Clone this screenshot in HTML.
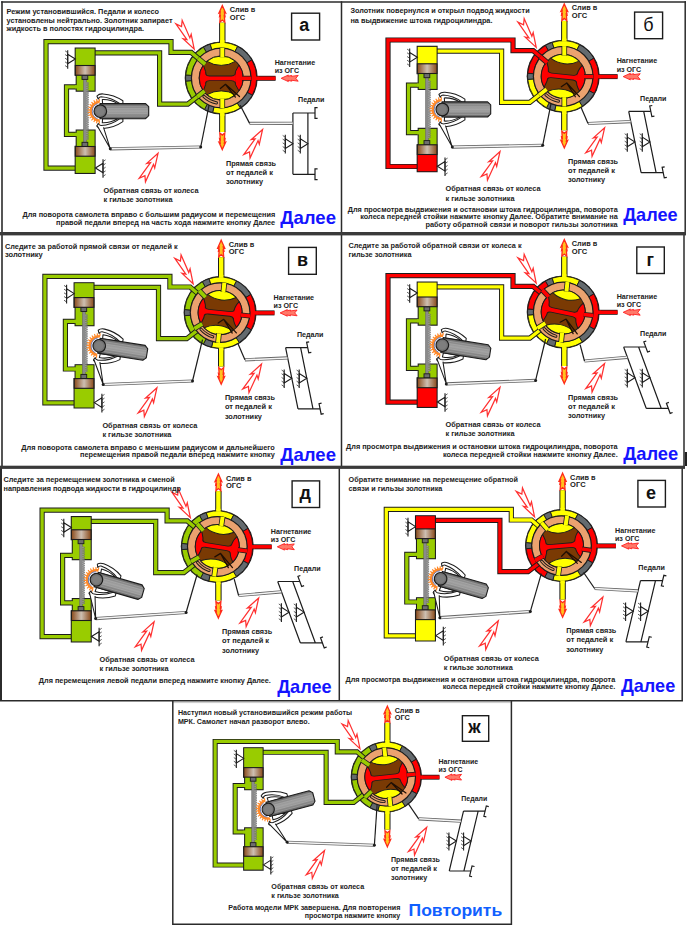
<!DOCTYPE html><html><head><meta charset="utf-8"><title>МРК</title><style>html,body{margin:0;padding:0;background:#fff}svg{display:block}text{font-family:"Liberation Sans",sans-serif}</style></head><body>
<svg width="687" height="931" viewBox="0 0 687 931">
<defs><linearGradient id="wg" x1="0" y1="0" x2="0" y2="1"><stop offset="0" stop-color="#636363"/><stop offset="0.25" stop-color="#8c8c8c"/><stop offset="0.5" stop-color="#a4a4a4"/><stop offset="0.78" stop-color="#858585"/><stop offset="1" stop-color="#5e5e5e"/></linearGradient><linearGradient id="pg" x1="0" y1="0" x2="1" y2="0"><stop offset="0" stop-color="#8a4a1a"/><stop offset="0.5" stop-color="#cdbfb2"/><stop offset="1" stop-color="#8a4a1a"/></linearGradient></defs>
<rect width="687" height="931" fill="#fff"/>
<!--PANELS-->
<g transform="translate(0,0)"><path d="M222.3,45.2 V22.6" fill="none" stroke="#1c1c1c" stroke-width="6.4" stroke-linejoin="miter" stroke-linecap="butt"/><path d="M222.3,45.2 V22.6" fill="none" stroke="#ffff00" stroke-width="4.4" stroke-linejoin="miter" stroke-linecap="butt"/><path d="M222.3,110.8 V132" fill="none" stroke="#1c1c1c" stroke-width="6.4" stroke-linejoin="miter" stroke-linecap="butt"/><path d="M222.3,110.8 V132" fill="none" stroke="#ffff00" stroke-width="4.4" stroke-linejoin="miter" stroke-linecap="butt"/><path d="M254,78.3 H275.6" fill="none" stroke="#1c1c1c" stroke-width="5.0" stroke-linejoin="miter" stroke-linecap="butt"/><path d="M254,78.3 H275.6" fill="none" stroke="#ff0000" stroke-width="3.5" stroke-linejoin="miter" stroke-linecap="butt"/><circle cx="221.2" cy="78.0" r="36.5" fill="#1c1c1c"/><path d="M203.4,47.17 A35.6,35.6 0 0 1 210.2,44.14 L212.05,49.85 A29.6,29.6 0 0 0 206.4,52.37 Z" fill="#646a6e" stroke="#1c1c1c" stroke-width="0.9" stroke-linejoin="round"/><path d="M210.2,44.14 A35.6,35.6 0 0 1 237.64,46.42 L234.87,51.74 A29.6,29.6 0 0 0 212.05,49.85 Z" fill="#ffff00" stroke="#1c1c1c" stroke-width="0.9" stroke-linejoin="round"/><path d="M237.64,46.42 A35.6,35.6 0 0 1 251.87,59.93 L246.7,62.98 A29.6,29.6 0 0 0 234.87,51.74 Z" fill="#646a6e" stroke="#1c1c1c" stroke-width="0.9" stroke-linejoin="round"/><path d="M251.87,59.93 A35.6,35.6 0 0 1 252.34,95.26 L247.09,92.35 A29.6,29.6 0 0 0 246.7,62.98 Z" fill="#ff0000" stroke="#1c1c1c" stroke-width="0.9" stroke-linejoin="round"/><path d="M252.34,95.26 A35.6,35.6 0 0 1 240.33,108.02 L237.1,102.96 A29.6,29.6 0 0 0 247.09,92.35 Z" fill="#646a6e" stroke="#1c1c1c" stroke-width="0.9" stroke-linejoin="round"/><path d="M240.33,108.02 A35.6,35.6 0 0 1 212.59,112.54 L214.04,106.72 A29.6,29.6 0 0 0 237.1,102.96 Z" fill="#ffff00" stroke="#1c1c1c" stroke-width="0.9" stroke-linejoin="round"/><path d="M212.59,112.54 A35.6,35.6 0 0 1 204.49,109.43 L207.3,104.14 A29.6,29.6 0 0 0 214.04,106.72 Z" fill="#646a6e" stroke="#1c1c1c" stroke-width="0.9" stroke-linejoin="round"/><path d="M204.49,109.43 A35.6,35.6 0 0 1 185.74,81.1 L191.71,80.58 A29.6,29.6 0 0 0 207.3,104.14 Z" fill="#99cc00" stroke="#1c1c1c" stroke-width="0.9" stroke-linejoin="round"/><path d="M185.74,81.1 A35.6,35.6 0 0 1 185.74,74.9 L191.71,75.42 A29.6,29.6 0 0 0 191.71,80.58 Z" fill="#646a6e" stroke="#1c1c1c" stroke-width="0.9" stroke-linejoin="round"/><path d="M185.74,74.9 A35.6,35.6 0 0 1 203.4,47.17 L206.4,52.37 A29.6,29.6 0 0 0 191.71,75.42 Z" fill="#99cc00" stroke="#1c1c1c" stroke-width="0.9" stroke-linejoin="round"/><rect x="220.05" y="40.3" width="4.5" height="3" fill="#ffff00"/><rect x="220.05" y="112.7" width="4.5" height="3" fill="#ffff00"/><rect x="255.9" y="76.55" width="3" height="3.5" fill="#ff0000"/><path d="M77,168.2 H46 V41.7 H171 V52.4 H191.23 L199,59.04" fill="none" stroke="#1c1c1c" stroke-width="5.2" stroke-linejoin="miter" stroke-linecap="butt"/><path d="M77,168.2 H46 V41.7 H171 V52.4 H191.23 L199,59.04" fill="none" stroke="#99cc00" stroke-width="3.3" stroke-linejoin="miter" stroke-linecap="butt"/><path d="M93,52.8 H159.6 V104.1 H187.79 L198.19,95.98" fill="none" stroke="#1c1c1c" stroke-width="5.2" stroke-linejoin="miter" stroke-linecap="butt"/><path d="M93,52.8 H159.6 V104.1 H187.79 L198.19,95.98" fill="none" stroke="#99cc00" stroke-width="3.3" stroke-linejoin="miter" stroke-linecap="butt"/><path d="M222.3,5.6 L225.6,12.96 L224.4,12.39 L225,16.26 L224.3,15.79 L224.8,22.2 L222.3,20.12 L219.8,22.2 L220.3,15.79 L219.6,16.26 L220.2,12.39 L219,12.96Z" fill="#ffc21e" stroke="#ff2a1a" stroke-width="1.3" stroke-linejoin="miter"/><path d="M222.3,149.6 L225.6,142.24 L224.4,142.81 L225,138.94 L224.3,139.41 L224.8,133 L222.3,135.07 L219.8,133 L220.3,139.41 L219.6,138.94 L220.2,142.81 L219,142.24Z" fill="#ffc21e" stroke="#ff2a1a" stroke-width="1.3" stroke-linejoin="miter"/><path d="M281.2,78.3 L288.4,75 L287.8,76.3 L291.7,75.4 L291.2,76.4 L298.2,75.4 L295.8,78.3 L298.2,81.2 L291.2,80.2 L291.7,81.2 L287.8,80.3 L288.4,81.6Z" fill="#ff7a6a" stroke="#ff2020" stroke-width="0.9" stroke-linejoin="miter"/><path d="M78,86.8 H66.5 V134.4 H78" fill="none" stroke="#1c1c1c" stroke-width="5.2" stroke-linejoin="miter" stroke-linecap="butt"/><path d="M78,86.8 H66.5 V134.4 H78" fill="none" stroke="#99cc00" stroke-width="3.3" stroke-linejoin="miter" stroke-linecap="butt"/><path d="M75.3,48.2 H95.0 V91 H76.3 V75.2 H75.3 Z" fill="#1c1c1c" stroke="#1c1c1c" stroke-width="1.3" stroke-linejoin="miter"/><rect x="75.7" y="48.6" width="18.9" height="16.9" fill="#99cc00"/><rect x="76.7" y="75.2" width="17.9" height="15.4" fill="#99cc00"/><rect x="75" y="85.1" width="3" height="3.4" fill="#99cc00"/><path d="M76.3,130.2 H95.0 V173.3 H75.3 V146.5 H76.3 Z" fill="#1c1c1c" stroke="#1c1c1c" stroke-width="1.3"/><rect x="76.7" y="130.6" width="17.9" height="15.9" fill="#99cc00"/><rect x="75.7" y="156.2" width="18.9" height="16.7" fill="#99cc00"/><rect x="75" y="132.7" width="3" height="3.4" fill="#99cc00"/><rect x="83.4" y="75.2" width="3.0" height="71.3" fill="#8a8a8a" stroke="#555" stroke-width="0.4"/><path d="M86.4,82.2 l2.4,0.9 l-2.4,0.9 M86.4,84 l2.4,0.9 l-2.4,0.9 M86.4,85.8 l2.4,0.9 l-2.4,0.9 M86.4,87.6 l2.4,0.9 l-2.4,0.9 M86.4,89.4 l2.4,0.9 l-2.4,0.9 M86.4,91.2 l2.4,0.9 l-2.4,0.9 M86.4,93 l2.4,0.9 l-2.4,0.9 M86.4,94.8 l2.4,0.9 l-2.4,0.9 M86.4,96.6 l2.4,0.9 l-2.4,0.9 M86.4,98.4 l2.4,0.9 l-2.4,0.9 M86.4,100.2 l2.4,0.9 l-2.4,0.9 M86.4,102 l2.4,0.9 l-2.4,0.9 M86.4,103.8 l2.4,0.9 l-2.4,0.9 M86.4,105.6 l2.4,0.9 l-2.4,0.9 M86.4,107.4 l2.4,0.9 l-2.4,0.9 M86.4,109.2 l2.4,0.9 l-2.4,0.9 M86.4,111 l2.4,0.9 l-2.4,0.9 M86.4,112.8 l2.4,0.9 l-2.4,0.9 M86.4,114.6 l2.4,0.9 l-2.4,0.9 M86.4,116.4 l2.4,0.9 l-2.4,0.9 M86.4,118.2 l2.4,0.9 l-2.4,0.9 M86.4,120 l2.4,0.9 l-2.4,0.9 M86.4,121.8 l2.4,0.9 l-2.4,0.9 M86.4,123.6 l2.4,0.9 l-2.4,0.9 M86.4,125.4 l2.4,0.9 l-2.4,0.9 M86.4,127.2 l2.4,0.9 l-2.4,0.9 M86.4,129 l2.4,0.9 l-2.4,0.9 M86.4,130.8 l2.4,0.9 l-2.4,0.9 M86.4,132.6 l2.4,0.9 l-2.4,0.9 M86.4,134.4 l2.4,0.9 l-2.4,0.9 M86.4,136.2 l2.4,0.9 l-2.4,0.9 M86.4,138 l2.4,0.9 l-2.4,0.9 " fill="#b5b5b5" stroke="#6a6a6a" stroke-width="0.6"/><rect x="82.0" y="75.2" width="5.8" height="4.2" fill="#6e6e6e" stroke="#1c1c1c" stroke-width="0.9"/><rect x="82.0" y="142.3" width="5.8" height="4.2" fill="#6e6e6e" stroke="#1c1c1c" stroke-width="0.9"/><rect x="75.3" y="65.5" width="19.7" height="9.7" fill="url(#pg)" stroke="#1c1c1c" stroke-width="1.1"/><rect x="75.3" y="146.5" width="19.7" height="9.7" fill="url(#pg)" stroke="#1c1c1c" stroke-width="1.1"/><path d="M75.3,59 L67.7,54.2 L67.7,63.8 Z" fill="#fff" stroke="#1c1c1c" stroke-width="1.1"/><path d="M67.7,50.2 V68.8" stroke="#1c1c1c" stroke-width="1.1"/><path d="M67.7,52.6 l-2.6,-1.8" stroke="#333" stroke-width="0.8"/><path d="M67.7,56.3 l-2.6,-1.8" stroke="#333" stroke-width="0.8"/><path d="M67.7,60 l-2.6,-1.8" stroke="#333" stroke-width="0.8"/><path d="M67.7,63.7 l-2.6,-1.8" stroke="#333" stroke-width="0.8"/><path d="M67.7,67.4 l-2.6,-1.8" stroke="#333" stroke-width="0.8"/><path d="M95.4,168 L103,163.2 L103,172.8 Z" fill="#fff" stroke="#1c1c1c" stroke-width="1.1"/><path d="M103,159.2 V177.8" stroke="#1c1c1c" stroke-width="1.1"/><path d="M103,161.6 l2.6,-1.8" stroke="#333" stroke-width="0.8"/><path d="M103,165.3 l2.6,-1.8" stroke="#333" stroke-width="0.8"/><path d="M103,169 l2.6,-1.8" stroke="#333" stroke-width="0.8"/><path d="M103,172.7 l2.6,-1.8" stroke="#333" stroke-width="0.8"/><path d="M103,176.4 l2.6,-1.8" stroke="#333" stroke-width="0.8"/><path d="M110.3,148.8 L200.7,147" stroke="#666" stroke-width="3.2"/><path d="M110.8,148.8 L200.4,147" stroke="#f4f4f4" stroke-width="1.5"/><circle cx="110.3" cy="148.8" r="1.5" fill="#1c1c1c"/><circle cx="200.7" cy="147" r="1.5" fill="#1c1c1c"/><path d="M200.7,147 L209.4,103.4" stroke="#1c1c1c" stroke-width="1.2"/><g transform="rotate(0 100.3 111.2)"><path d="M100.04,121.9 L99.7,123.89 L98.69,123.8 L98.7,121.78 L97.63,121.56 L96.85,123.42 L95.88,123.11 L96.35,121.14 L95.35,120.69 L94.17,122.32 L93.3,121.8 L94.2,119.99 L93.33,119.32 L91.81,120.65 L91.08,119.94 L92.37,118.38 L91.68,117.53 L89.9,118.48 L89.35,117.63 L90.95,116.4 L90.47,115.42 L88.52,115.94 L88.18,114.98 L90.02,114.15 L89.77,113.08 L87.75,113.15 L87.63,112.14 L89.61,111.75 L89.61,110.65 L87.63,110.26 L87.75,109.25 L89.77,109.32 L90.02,108.25 L88.18,107.42 L88.52,106.46 L90.47,106.98 L90.95,106 L89.35,104.77 L89.9,103.92 L91.68,104.87 L92.37,104.02 L91.08,102.46 L91.81,101.75 L93.33,103.08 L94.2,102.41 L93.3,100.6 L94.17,100.08 L95.35,101.71 L96.35,101.26 L95.88,99.29 L96.85,98.98 L97.63,100.84 L98.7,100.62 L98.69,98.6 L99.7,98.51 L100.04,100.5 L99.59,103.03 L97.76,103.4 L96.06,104.18 L94.58,105.32 L93.4,106.77 L92.58,108.45 L92.15,110.27 L92.15,112.13 L92.58,113.95 L93.4,115.63 L94.58,117.08 L96.06,118.22 L97.76,119 L99.59,119.37Z" fill="#ff8a2a"/><path d="M97.56,118.72 A8,8 0 0 1 97.56,103.68" fill="none" stroke="#3b5bb5" stroke-width="0.7"/><path d="M96.9,126.4 Q99,128.8 103,128.5 Q114,127.8 122.9,121.6 L122.9,118.6 L120,118.6 Q111,125.1 101,125.6 Q99,125.4 98.2,123.4 Z" fill="#fff" stroke="#1c1c1c" stroke-width="1.05" stroke-linejoin="round"/><path d="M102.3,122.8 Q110,123.2 117.8,118.8 L102.6,118.5 Z" fill="#fff" stroke="#1c1c1c" stroke-width="1.05" stroke-linejoin="round"/><path d="M96.9,96 Q99,93.6 103,93.9 Q114,94.6 122.9,100.8 L122.9,103.8 L120,103.8 Q111,97.3 101,96.8 Q99,97 98.2,99 Z" fill="#fff" stroke="#1c1c1c" stroke-width="1.05" stroke-linejoin="round"/><path d="M102.3,99.6 Q110,99.2 117.8,103.6 L102.6,103.9 Z" fill="#fff" stroke="#1c1c1c" stroke-width="1.05" stroke-linejoin="round"/><path d="M96.8,124.9 L110.3,148.8 L103.5,127.3" fill="#fff" stroke="#1c1c1c" stroke-width="1.05" stroke-linejoin="round"/><path d="M100,103.6 H145.6 L148.7,106.6 V115.6 L145.6,118.7 H100 Z" fill="url(#wg)" stroke="#1c1c1c" stroke-width="1.1" stroke-linejoin="round"/><path d="M106,106.3 H147.5" stroke="#b9b9b9" stroke-width="0.4"/><path d="M106,108.6 H147.5" stroke="#b9b9b9" stroke-width="0.4"/><path d="M106,113.6 H147.5" stroke="#b9b9b9" stroke-width="0.4"/><path d="M106,116.2 H147.5" stroke="#b9b9b9" stroke-width="0.4"/><circle cx="100.3" cy="111.2" r="6.3" fill="#747474" stroke="#1c1c1c" stroke-width="1.2"/><circle cx="100.3" cy="111.2" r="4.2" fill="#7e7e7e"/></g><path d="M292.9,113.0 L292.9,174.3 M307.9,113.0 L307.9,174.3 M292.9,113.0 H315 M292.9,174.3 H315" stroke="#1c1c1c" stroke-width="1.2" fill="none"/><path d="M2.6,-5.4 H0 V5.4 H2.6" transform="translate(315,113) rotate(-0)" stroke="#1c1c1c" stroke-width="1.2" fill="none"/><path d="M2.6,-5.4 H0 V5.4 H2.6" transform="translate(315,174.3) rotate(-0)" stroke="#1c1c1c" stroke-width="1.2" fill="none"/><path d="M292.9,143.65 L285.3,138.85 L285.3,148.45 Z" fill="#fff" stroke="#1c1c1c" stroke-width="1.1"/><path d="M285.3,134.85 V153.45" stroke="#1c1c1c" stroke-width="1.1"/><path d="M285.3,137.25 l-2.6,-1.8" stroke="#333" stroke-width="0.8"/><path d="M285.3,140.95 l-2.6,-1.8" stroke="#333" stroke-width="0.8"/><path d="M285.3,144.65 l-2.6,-1.8" stroke="#333" stroke-width="0.8"/><path d="M285.3,148.35 l-2.6,-1.8" stroke="#333" stroke-width="0.8"/><path d="M285.3,152.05 l-2.6,-1.8" stroke="#333" stroke-width="0.8"/><path d="M307.9,143.65 L300.3,138.85 L300.3,148.45 Z" fill="#fff" stroke="#1c1c1c" stroke-width="1.1"/><path d="M300.3,134.85 V153.45" stroke="#1c1c1c" stroke-width="1.1"/><path d="M300.3,137.25 l-2.6,-1.8" stroke="#333" stroke-width="0.8"/><path d="M300.3,140.95 l-2.6,-1.8" stroke="#333" stroke-width="0.8"/><path d="M300.3,144.65 l-2.6,-1.8" stroke="#333" stroke-width="0.8"/><path d="M300.3,148.35 l-2.6,-1.8" stroke="#333" stroke-width="0.8"/><path d="M300.3,152.05 l-2.6,-1.8" stroke="#333" stroke-width="0.8"/><path d="M249.6,123.4 L292.9,123.3" stroke="#666" stroke-width="3.2"/><path d="M250.1,123.4 L292.6,123.3" stroke="#f4f4f4" stroke-width="1.5"/><path d="M249.6,123.4 L240.2,105.3" stroke="#1c1c1c" stroke-width="1.2"/><circle cx="221.2" cy="78.0" r="30.400000000000002" fill="#1c1c1c"/><circle cx="221.2" cy="78.0" r="29.2" fill="#eba26f"/><circle cx="221.2" cy="78.0" r="22.5" fill="#1c1c1c"/><g transform="rotate(0 221.2 78.0)"><circle cx="221.2" cy="78.0" r="21.6" fill="#7a3a04"/><path d="M206.91,61.27 A22,22 0 0 1 235.49,61.27 A26.79,26.79 0 0 1 206.91,61.27 Z" fill="#ffff00" stroke="#1c1c1c" stroke-width="1.0" stroke-linejoin="round"/><path d="M235.49,94.73 A22,22 0 0 1 206.91,94.73 A28.57,28.57 0 0 1 235.49,94.73 Z" fill="#ffff00" stroke="#1c1c1c" stroke-width="1.0" stroke-linejoin="round"/><path d="M203.4,90.93 A22,22 0 0 1 203.4,65.07 A31.28,31.28 0 0 1 203.4,90.93 Z" fill="#ff0000" stroke="#1c1c1c" stroke-width="1.0" stroke-linejoin="round"/><path d="M239,65.07 A22,22 0 0 1 239,90.93 A20.84,20.84 0 0 1 239,65.07 Z" fill="#ff0000" stroke="#1c1c1c" stroke-width="1.0" stroke-linejoin="round"/><path d="M206.2,73.65 Q206.5,75.55 209.4,75.55 H231.3 Q234.2,75.55 234.5,73.65 V82.95 Q234.2,81.05 231.3,81.05 H209.4 Q206.5,81.05 206.2,82.95 Z" fill="#1c1c1c"/><path d="M205,74.5 Q206.5,76.4 209.4,76.4 H231.3 Q234.2,76.4 235.7,74.5 V82.1 Q234.2,80.2 231.3,80.2 H209.4 Q206.5,80.2 205,82.1 Z" fill="#ff0000"/><path d="M225.5,84.3 L239.5,96.5 M225.5,84.3 L220.4,88.6 M225.9,84.9 L235.4,97.1" stroke="#1e0e04" stroke-width="1.25" fill="none" stroke-linecap="round"/></g><g transform="rotate(0 221.2 78.0)"><rect x="219.5" y="47.8" width="5.6" height="9.4" fill="#1c1c1c"/><rect x="220.3" y="47.8" width="4" height="9.4" fill="#ffff00"/><rect x="219.5" y="98.8" width="5.6" height="9.4" fill="#1c1c1c"/><rect x="220.3" y="98.8" width="4" height="9.4" fill="#ffff00"/><rect x="242" y="75.75" width="9.4" height="5.1" fill="#1c1c1c"/><rect x="242" y="76.55" width="9.4" height="3.5" fill="#ff0000"/></g><path d="M205.16,64.3 L198.16,58.32" stroke="#1c1c1c" stroke-width="5.4"/><path d="M205.16,64.3 L198.16,58.32" stroke="#99cc00" stroke-width="3.8"/><path d="M204.57,90.99 L197.32,96.65" stroke="#1c1c1c" stroke-width="5.4"/><path d="M204.57,90.99 L197.32,96.65" stroke="#99cc00" stroke-width="3.8"/><g transform="rotate(0 221.2 78.0)"><path d="M203.95,96.5 A25.3,25.3 0 0 0 216.37,102.84" fill="none" stroke="#1c1c1c" stroke-width="3.2" stroke-linecap="round"/><path d="M203.95,96.5 A25.3,25.3 0 0 0 216.37,102.84" fill="none" stroke="#e09a68" stroke-width="1.3" stroke-linecap="round"/></g><path d="M-1.6,0 L-16,4.6 L-13.5,1.7 L-32.6,3.6 L-27.5,0 L-32.6,-3.6 L-13.5,-1.7 L-16,-4.6Z" transform="translate(195,50.5) rotate(60.7)" fill="#fff" stroke="#ff3030" stroke-width="1.25" stroke-linejoin="miter"/><path d="M-1.6,0 L-16,4.6 L-13.5,1.7 L-32.6,3.6 L-27.5,0 L-32.6,-3.6 L-13.5,-1.7 L-16,-4.6Z" transform="translate(158.8,151.9) rotate(-59.7)" fill="#fff" stroke="#ff3030" stroke-width="1.25" stroke-linejoin="miter"/><path d="M-1.6,0 L-16,4.6 L-13.5,1.7 L-32.6,3.6 L-27.5,0 L-32.6,-3.6 L-13.5,-1.7 L-16,-4.6Z" transform="translate(263.4,128.1) rotate(-59.7)" fill="#fff" stroke="#ff3030" stroke-width="1.25" stroke-linejoin="miter"/><text x="229.8" y="12.2" font-size="7.33" font-weight="bold" fill="#222" text-anchor="start" textLength="25.5" lengthAdjust="spacingAndGlyphs">Слив в</text><text x="229.8" y="19.8" font-size="7.33" font-weight="bold" fill="#222" text-anchor="start" textLength="15.5" lengthAdjust="spacingAndGlyphs">ОГС</text><text x="274.7" y="65.1" font-size="7.33" font-weight="bold" fill="#222" text-anchor="start" textLength="40.5" lengthAdjust="spacingAndGlyphs">Нагнетание</text><text x="274.7" y="73.4" font-size="7.33" font-weight="bold" fill="#222" text-anchor="start" textLength="24.5" lengthAdjust="spacingAndGlyphs">из ОГС</text><text x="298" y="102.4" font-size="7.33" font-weight="bold" fill="#222" text-anchor="start" textLength="26.5" lengthAdjust="spacingAndGlyphs">Педали</text><text x="226" y="165.6" font-size="7.33" font-weight="bold" fill="#222" text-anchor="start" textLength="50" lengthAdjust="spacingAndGlyphs">Прямая связь</text><text x="226" y="174.8" font-size="7.33" font-weight="bold" fill="#222" text-anchor="start" textLength="47" lengthAdjust="spacingAndGlyphs">от педалей к</text><text x="226" y="184" font-size="7.33" font-weight="bold" fill="#222" text-anchor="start" textLength="37" lengthAdjust="spacingAndGlyphs">золотнику</text><text x="103.5" y="193" font-size="7.33" font-weight="bold" fill="#222" text-anchor="start" textLength="95" lengthAdjust="spacingAndGlyphs">Обратная связь от колеса</text><text x="103.5" y="202.3" font-size="7.33" font-weight="bold" fill="#222" text-anchor="start" textLength="69" lengthAdjust="spacingAndGlyphs">к гильзе золотника</text></g>
<g transform="translate(342,-1.7)"><path d="M222.3,45.2 V22.6" fill="none" stroke="#1c1c1c" stroke-width="6.4" stroke-linejoin="miter" stroke-linecap="butt"/><path d="M222.3,45.2 V22.6" fill="none" stroke="#ffff00" stroke-width="4.4" stroke-linejoin="miter" stroke-linecap="butt"/><path d="M222.3,110.8 V132" fill="none" stroke="#1c1c1c" stroke-width="6.4" stroke-linejoin="miter" stroke-linecap="butt"/><path d="M222.3,110.8 V132" fill="none" stroke="#ffff00" stroke-width="4.4" stroke-linejoin="miter" stroke-linecap="butt"/><path d="M254,78.3 H275.6" fill="none" stroke="#1c1c1c" stroke-width="5.0" stroke-linejoin="miter" stroke-linecap="butt"/><path d="M254,78.3 H275.6" fill="none" stroke="#ff0000" stroke-width="3.5" stroke-linejoin="miter" stroke-linecap="butt"/><circle cx="221.2" cy="78.0" r="36.5" fill="#1c1c1c"/><path d="M203.4,47.17 A35.6,35.6 0 0 1 210.2,44.14 L212.05,49.85 A29.6,29.6 0 0 0 206.4,52.37 Z" fill="#646a6e" stroke="#1c1c1c" stroke-width="0.9" stroke-linejoin="round"/><path d="M210.2,44.14 A35.6,35.6 0 0 1 237.64,46.42 L234.87,51.74 A29.6,29.6 0 0 0 212.05,49.85 Z" fill="#ffff00" stroke="#1c1c1c" stroke-width="0.9" stroke-linejoin="round"/><path d="M237.64,46.42 A35.6,35.6 0 0 1 251.87,59.93 L246.7,62.98 A29.6,29.6 0 0 0 234.87,51.74 Z" fill="#646a6e" stroke="#1c1c1c" stroke-width="0.9" stroke-linejoin="round"/><path d="M251.87,59.93 A35.6,35.6 0 0 1 252.34,95.26 L247.09,92.35 A29.6,29.6 0 0 0 246.7,62.98 Z" fill="#ff0000" stroke="#1c1c1c" stroke-width="0.9" stroke-linejoin="round"/><path d="M252.34,95.26 A35.6,35.6 0 0 1 240.33,108.02 L237.1,102.96 A29.6,29.6 0 0 0 247.09,92.35 Z" fill="#646a6e" stroke="#1c1c1c" stroke-width="0.9" stroke-linejoin="round"/><path d="M240.33,108.02 A35.6,35.6 0 0 1 212.59,112.54 L214.04,106.72 A29.6,29.6 0 0 0 237.1,102.96 Z" fill="#ffff00" stroke="#1c1c1c" stroke-width="0.9" stroke-linejoin="round"/><path d="M212.59,112.54 A35.6,35.6 0 0 1 204.49,109.43 L207.3,104.14 A29.6,29.6 0 0 0 214.04,106.72 Z" fill="#646a6e" stroke="#1c1c1c" stroke-width="0.9" stroke-linejoin="round"/><path d="M204.49,109.43 A35.6,35.6 0 0 1 185.74,81.1 L191.71,80.58 A29.6,29.6 0 0 0 207.3,104.14 Z" fill="#ffff00" stroke="#1c1c1c" stroke-width="0.9" stroke-linejoin="round"/><path d="M185.74,81.1 A35.6,35.6 0 0 1 185.74,74.9 L191.71,75.42 A29.6,29.6 0 0 0 191.71,80.58 Z" fill="#646a6e" stroke="#1c1c1c" stroke-width="0.9" stroke-linejoin="round"/><path d="M185.74,74.9 A35.6,35.6 0 0 1 203.4,47.17 L206.4,52.37 A29.6,29.6 0 0 0 191.71,75.42 Z" fill="#ff0000" stroke="#1c1c1c" stroke-width="0.9" stroke-linejoin="round"/><rect x="220.05" y="40.3" width="4.5" height="3" fill="#ffff00"/><rect x="220.05" y="112.7" width="4.5" height="3" fill="#ffff00"/><rect x="255.9" y="76.55" width="3" height="3.5" fill="#ff0000"/><path d="M77,168.2 H46 V41.7 H171 V52.4 H191.23 L199,59.04" fill="none" stroke="#1c1c1c" stroke-width="5.2" stroke-linejoin="miter" stroke-linecap="butt"/><path d="M77,168.2 H46 V41.7 H171 V52.4 H191.23 L199,59.04" fill="none" stroke="#ff0000" stroke-width="3.3" stroke-linejoin="miter" stroke-linecap="butt"/><path d="M93,52.8 H159.6 V104.1 H187.79 L198.19,95.98" fill="none" stroke="#1c1c1c" stroke-width="5.2" stroke-linejoin="miter" stroke-linecap="butt"/><path d="M93,52.8 H159.6 V104.1 H187.79 L198.19,95.98" fill="none" stroke="#ffff00" stroke-width="3.3" stroke-linejoin="miter" stroke-linecap="butt"/><path d="M222.3,5.6 L225.6,12.96 L224.4,12.39 L225,16.26 L224.3,15.79 L224.8,22.2 L222.3,20.12 L219.8,22.2 L220.3,15.79 L219.6,16.26 L220.2,12.39 L219,12.96Z" fill="#ffc21e" stroke="#ff2a1a" stroke-width="1.3" stroke-linejoin="miter"/><path d="M222.3,149.6 L225.6,142.24 L224.4,142.81 L225,138.94 L224.3,139.41 L224.8,133 L222.3,135.07 L219.8,133 L220.3,139.41 L219.6,138.94 L220.2,142.81 L219,142.24Z" fill="#ffc21e" stroke="#ff2a1a" stroke-width="1.3" stroke-linejoin="miter"/><path d="M281.2,78.3 L288.4,75 L287.8,76.3 L291.7,75.4 L291.2,76.4 L298.2,75.4 L295.8,78.3 L298.2,81.2 L291.2,80.2 L291.7,81.2 L287.8,80.3 L288.4,81.6Z" fill="#ff7a6a" stroke="#ff2020" stroke-width="0.9" stroke-linejoin="miter"/><path d="M78,86.8 H66.5 V134.4 H78" fill="none" stroke="#1c1c1c" stroke-width="5.2" stroke-linejoin="miter" stroke-linecap="butt"/><path d="M78,86.8 H66.5 V134.4 H78" fill="none" stroke="#99cc00" stroke-width="3.3" stroke-linejoin="miter" stroke-linecap="butt"/><path d="M75.3,48.2 H95.0 V91 H76.3 V75.2 H75.3 Z" fill="#1c1c1c" stroke="#1c1c1c" stroke-width="1.3" stroke-linejoin="miter"/><rect x="75.7" y="48.6" width="18.9" height="16.9" fill="#ffff00"/><rect x="76.7" y="75.2" width="17.9" height="15.4" fill="#99cc00"/><rect x="75" y="85.1" width="3" height="3.4" fill="#99cc00"/><path d="M76.3,130.2 H95.0 V173.3 H75.3 V146.5 H76.3 Z" fill="#1c1c1c" stroke="#1c1c1c" stroke-width="1.3"/><rect x="76.7" y="130.6" width="17.9" height="15.9" fill="#99cc00"/><rect x="75.7" y="156.2" width="18.9" height="16.7" fill="#ff0000"/><rect x="75" y="132.7" width="3" height="3.4" fill="#99cc00"/><rect x="83.4" y="75.2" width="3.0" height="71.3" fill="#8a8a8a" stroke="#555" stroke-width="0.4"/><path d="M86.4,82.2 l2.4,0.9 l-2.4,0.9 M86.4,84 l2.4,0.9 l-2.4,0.9 M86.4,85.8 l2.4,0.9 l-2.4,0.9 M86.4,87.6 l2.4,0.9 l-2.4,0.9 M86.4,89.4 l2.4,0.9 l-2.4,0.9 M86.4,91.2 l2.4,0.9 l-2.4,0.9 M86.4,93 l2.4,0.9 l-2.4,0.9 M86.4,94.8 l2.4,0.9 l-2.4,0.9 M86.4,96.6 l2.4,0.9 l-2.4,0.9 M86.4,98.4 l2.4,0.9 l-2.4,0.9 M86.4,100.2 l2.4,0.9 l-2.4,0.9 M86.4,102 l2.4,0.9 l-2.4,0.9 M86.4,103.8 l2.4,0.9 l-2.4,0.9 M86.4,105.6 l2.4,0.9 l-2.4,0.9 M86.4,107.4 l2.4,0.9 l-2.4,0.9 M86.4,109.2 l2.4,0.9 l-2.4,0.9 M86.4,111 l2.4,0.9 l-2.4,0.9 M86.4,112.8 l2.4,0.9 l-2.4,0.9 M86.4,114.6 l2.4,0.9 l-2.4,0.9 M86.4,116.4 l2.4,0.9 l-2.4,0.9 M86.4,118.2 l2.4,0.9 l-2.4,0.9 M86.4,120 l2.4,0.9 l-2.4,0.9 M86.4,121.8 l2.4,0.9 l-2.4,0.9 M86.4,123.6 l2.4,0.9 l-2.4,0.9 M86.4,125.4 l2.4,0.9 l-2.4,0.9 M86.4,127.2 l2.4,0.9 l-2.4,0.9 M86.4,129 l2.4,0.9 l-2.4,0.9 M86.4,130.8 l2.4,0.9 l-2.4,0.9 M86.4,132.6 l2.4,0.9 l-2.4,0.9 M86.4,134.4 l2.4,0.9 l-2.4,0.9 M86.4,136.2 l2.4,0.9 l-2.4,0.9 M86.4,138 l2.4,0.9 l-2.4,0.9 " fill="#b5b5b5" stroke="#6a6a6a" stroke-width="0.6"/><rect x="82.0" y="75.2" width="5.8" height="4.2" fill="#6e6e6e" stroke="#1c1c1c" stroke-width="0.9"/><rect x="82.0" y="142.3" width="5.8" height="4.2" fill="#6e6e6e" stroke="#1c1c1c" stroke-width="0.9"/><rect x="75.3" y="65.5" width="19.7" height="9.7" fill="url(#pg)" stroke="#1c1c1c" stroke-width="1.1"/><rect x="75.3" y="146.5" width="19.7" height="9.7" fill="url(#pg)" stroke="#1c1c1c" stroke-width="1.1"/><path d="M75.3,59 L67.7,54.2 L67.7,63.8 Z" fill="#fff" stroke="#1c1c1c" stroke-width="1.1"/><path d="M67.7,50.2 V68.8" stroke="#1c1c1c" stroke-width="1.1"/><path d="M67.7,52.6 l-2.6,-1.8" stroke="#333" stroke-width="0.8"/><path d="M67.7,56.3 l-2.6,-1.8" stroke="#333" stroke-width="0.8"/><path d="M67.7,60 l-2.6,-1.8" stroke="#333" stroke-width="0.8"/><path d="M67.7,63.7 l-2.6,-1.8" stroke="#333" stroke-width="0.8"/><path d="M67.7,67.4 l-2.6,-1.8" stroke="#333" stroke-width="0.8"/><path d="M95.4,168 L103,163.2 L103,172.8 Z" fill="#fff" stroke="#1c1c1c" stroke-width="1.1"/><path d="M103,159.2 V177.8" stroke="#1c1c1c" stroke-width="1.1"/><path d="M103,161.6 l2.6,-1.8" stroke="#333" stroke-width="0.8"/><path d="M103,165.3 l2.6,-1.8" stroke="#333" stroke-width="0.8"/><path d="M103,169 l2.6,-1.8" stroke="#333" stroke-width="0.8"/><path d="M103,172.7 l2.6,-1.8" stroke="#333" stroke-width="0.8"/><path d="M103,176.4 l2.6,-1.8" stroke="#333" stroke-width="0.8"/><path d="M110.3,148.8 L200.7,147" stroke="#666" stroke-width="3.2"/><path d="M110.8,148.8 L200.4,147" stroke="#f4f4f4" stroke-width="1.5"/><circle cx="110.3" cy="148.8" r="1.5" fill="#1c1c1c"/><circle cx="200.7" cy="147" r="1.5" fill="#1c1c1c"/><path d="M200.7,147 L209.4,103.4" stroke="#1c1c1c" stroke-width="1.2"/><g transform="rotate(0 100.3 111.2)"><path d="M100.04,121.9 L99.7,123.89 L98.69,123.8 L98.7,121.78 L97.63,121.56 L96.85,123.42 L95.88,123.11 L96.35,121.14 L95.35,120.69 L94.17,122.32 L93.3,121.8 L94.2,119.99 L93.33,119.32 L91.81,120.65 L91.08,119.94 L92.37,118.38 L91.68,117.53 L89.9,118.48 L89.35,117.63 L90.95,116.4 L90.47,115.42 L88.52,115.94 L88.18,114.98 L90.02,114.15 L89.77,113.08 L87.75,113.15 L87.63,112.14 L89.61,111.75 L89.61,110.65 L87.63,110.26 L87.75,109.25 L89.77,109.32 L90.02,108.25 L88.18,107.42 L88.52,106.46 L90.47,106.98 L90.95,106 L89.35,104.77 L89.9,103.92 L91.68,104.87 L92.37,104.02 L91.08,102.46 L91.81,101.75 L93.33,103.08 L94.2,102.41 L93.3,100.6 L94.17,100.08 L95.35,101.71 L96.35,101.26 L95.88,99.29 L96.85,98.98 L97.63,100.84 L98.7,100.62 L98.69,98.6 L99.7,98.51 L100.04,100.5 L99.59,103.03 L97.76,103.4 L96.06,104.18 L94.58,105.32 L93.4,106.77 L92.58,108.45 L92.15,110.27 L92.15,112.13 L92.58,113.95 L93.4,115.63 L94.58,117.08 L96.06,118.22 L97.76,119 L99.59,119.37Z" fill="#ff8a2a"/><path d="M97.56,118.72 A8,8 0 0 1 97.56,103.68" fill="none" stroke="#3b5bb5" stroke-width="0.7"/><path d="M96.9,126.4 Q99,128.8 103,128.5 Q114,127.8 122.9,121.6 L122.9,118.6 L120,118.6 Q111,125.1 101,125.6 Q99,125.4 98.2,123.4 Z" fill="#fff" stroke="#1c1c1c" stroke-width="1.05" stroke-linejoin="round"/><path d="M102.3,122.8 Q110,123.2 117.8,118.8 L102.6,118.5 Z" fill="#fff" stroke="#1c1c1c" stroke-width="1.05" stroke-linejoin="round"/><path d="M96.9,96 Q99,93.6 103,93.9 Q114,94.6 122.9,100.8 L122.9,103.8 L120,103.8 Q111,97.3 101,96.8 Q99,97 98.2,99 Z" fill="#fff" stroke="#1c1c1c" stroke-width="1.05" stroke-linejoin="round"/><path d="M102.3,99.6 Q110,99.2 117.8,103.6 L102.6,103.9 Z" fill="#fff" stroke="#1c1c1c" stroke-width="1.05" stroke-linejoin="round"/><path d="M96.8,124.9 L110.3,148.8 L103.5,127.3" fill="#fff" stroke="#1c1c1c" stroke-width="1.05" stroke-linejoin="round"/><path d="M100,103.6 H145.6 L148.7,106.6 V115.6 L145.6,118.7 H100 Z" fill="url(#wg)" stroke="#1c1c1c" stroke-width="1.1" stroke-linejoin="round"/><path d="M106,106.3 H147.5" stroke="#b9b9b9" stroke-width="0.4"/><path d="M106,108.6 H147.5" stroke="#b9b9b9" stroke-width="0.4"/><path d="M106,113.6 H147.5" stroke="#b9b9b9" stroke-width="0.4"/><path d="M106,116.2 H147.5" stroke="#b9b9b9" stroke-width="0.4"/><circle cx="100.3" cy="111.2" r="6.3" fill="#747474" stroke="#1c1c1c" stroke-width="1.2"/><circle cx="100.3" cy="111.2" r="4.2" fill="#7e7e7e"/></g><path d="M286.7,113.0 L299.1,174.3 M301.7,113.0 L314.1,174.3 M286.7,113.0 H308.8 M299.1,174.3 H321.2" stroke="#1c1c1c" stroke-width="1.2" fill="none"/><path d="M2.6,-5.4 H0 V5.4 H2.6" transform="translate(308.8,113) rotate(-11.44)" stroke="#1c1c1c" stroke-width="1.2" fill="none"/><path d="M2.6,-5.4 H0 V5.4 H2.6" transform="translate(321.2,174.3) rotate(-11.44)" stroke="#1c1c1c" stroke-width="1.2" fill="none"/><path d="M292.9,143.65 L285.3,138.85 L285.3,148.45 Z" fill="#fff" stroke="#1c1c1c" stroke-width="1.1"/><path d="M285.3,134.85 V153.45" stroke="#1c1c1c" stroke-width="1.1"/><path d="M285.3,137.25 l-2.6,-1.8" stroke="#333" stroke-width="0.8"/><path d="M285.3,140.95 l-2.6,-1.8" stroke="#333" stroke-width="0.8"/><path d="M285.3,144.65 l-2.6,-1.8" stroke="#333" stroke-width="0.8"/><path d="M285.3,148.35 l-2.6,-1.8" stroke="#333" stroke-width="0.8"/><path d="M285.3,152.05 l-2.6,-1.8" stroke="#333" stroke-width="0.8"/><path d="M307.9,143.65 L300.3,138.85 L300.3,148.45 Z" fill="#fff" stroke="#1c1c1c" stroke-width="1.1"/><path d="M300.3,134.85 V153.45" stroke="#1c1c1c" stroke-width="1.1"/><path d="M300.3,137.25 l-2.6,-1.8" stroke="#333" stroke-width="0.8"/><path d="M300.3,140.95 l-2.6,-1.8" stroke="#333" stroke-width="0.8"/><path d="M300.3,144.65 l-2.6,-1.8" stroke="#333" stroke-width="0.8"/><path d="M300.3,148.35 l-2.6,-1.8" stroke="#333" stroke-width="0.8"/><path d="M300.3,152.05 l-2.6,-1.8" stroke="#333" stroke-width="0.8"/><path d="M246,125.2 L288.78,123.3" stroke="#666" stroke-width="3.2"/><path d="M246.5,125.2 L288.48,123.3" stroke="#f4f4f4" stroke-width="1.5"/><path d="M246,125.2 L239,109" stroke="#1c1c1c" stroke-width="1.2"/><circle cx="221.2" cy="78.0" r="30.400000000000002" fill="#1c1c1c"/><circle cx="221.2" cy="78.0" r="29.2" fill="#eba26f"/><circle cx="221.2" cy="78.0" r="22.5" fill="#1c1c1c"/><g transform="rotate(6 221.2 78.0)"><circle cx="221.2" cy="78.0" r="21.6" fill="#7a3a04"/><path d="M206.91,61.27 A22,22 0 0 1 235.49,61.27 A26.79,26.79 0 0 1 206.91,61.27 Z" fill="#ffff00" stroke="#1c1c1c" stroke-width="1.0" stroke-linejoin="round"/><path d="M235.49,94.73 A22,22 0 0 1 206.91,94.73 A28.57,28.57 0 0 1 235.49,94.73 Z" fill="#ffff00" stroke="#1c1c1c" stroke-width="1.0" stroke-linejoin="round"/><path d="M203.4,90.93 A22,22 0 0 1 203.4,65.07 A31.28,31.28 0 0 1 203.4,90.93 Z" fill="#ff0000" stroke="#1c1c1c" stroke-width="1.0" stroke-linejoin="round"/><path d="M239,65.07 A22,22 0 0 1 239,90.93 A20.84,20.84 0 0 1 239,65.07 Z" fill="#ff0000" stroke="#1c1c1c" stroke-width="1.0" stroke-linejoin="round"/><path d="M206.2,73.65 Q206.5,75.55 209.4,75.55 H231.3 Q234.2,75.55 234.5,73.65 V82.95 Q234.2,81.05 231.3,81.05 H209.4 Q206.5,81.05 206.2,82.95 Z" fill="#1c1c1c"/><path d="M205,74.5 Q206.5,76.4 209.4,76.4 H231.3 Q234.2,76.4 235.7,74.5 V82.1 Q234.2,80.2 231.3,80.2 H209.4 Q206.5,80.2 205,82.1 Z" fill="#ff0000"/><path d="M225.5,84.3 L239.5,96.5 M225.5,84.3 L220.4,88.6 M225.9,84.9 L235.4,97.1" stroke="#1e0e04" stroke-width="1.25" fill="none" stroke-linecap="round"/></g><g transform="rotate(0 221.2 78.0)"><rect x="219.5" y="47.8" width="5.6" height="9.4" fill="#1c1c1c"/><rect x="220.3" y="47.8" width="4" height="9.4" fill="#ffff00"/><rect x="219.5" y="98.8" width="5.6" height="9.4" fill="#1c1c1c"/><rect x="220.3" y="98.8" width="4" height="9.4" fill="#ffff00"/><rect x="242" y="75.75" width="9.4" height="5.1" fill="#1c1c1c"/><rect x="242" y="76.55" width="9.4" height="3.5" fill="#ff0000"/></g><path d="M205.16,64.3 L198.16,58.32" stroke="#1c1c1c" stroke-width="5.4"/><path d="M205.16,64.3 L198.16,58.32" stroke="#ff0000" stroke-width="3.8"/><path d="M204.57,90.99 L197.32,96.65" stroke="#1c1c1c" stroke-width="5.4"/><path d="M204.57,90.99 L197.32,96.65" stroke="#ffff00" stroke-width="3.8"/><g transform="rotate(0 221.2 78.0)"><path d="M203.95,96.5 A25.3,25.3 0 0 0 216.37,102.84" fill="none" stroke="#1c1c1c" stroke-width="3.2" stroke-linecap="round"/><path d="M203.95,96.5 A25.3,25.3 0 0 0 216.37,102.84" fill="none" stroke="#e09a68" stroke-width="1.3" stroke-linecap="round"/></g><path d="M-1.6,0 L-16,4.6 L-13.5,1.7 L-32.6,3.6 L-27.5,0 L-32.6,-3.6 L-13.5,-1.7 L-16,-4.6Z" transform="translate(195,50.5) rotate(60.7)" fill="#fff" stroke="#ff3030" stroke-width="1.25" stroke-linejoin="miter"/><path d="M-1.6,0 L-16,4.6 L-13.5,1.7 L-32.6,3.6 L-27.5,0 L-32.6,-3.6 L-13.5,-1.7 L-16,-4.6Z" transform="translate(158.8,151.9) rotate(-59.7)" fill="#fff" stroke="#ff3030" stroke-width="1.25" stroke-linejoin="miter"/><path d="M-1.6,0 L-16,4.6 L-13.5,1.7 L-32.6,3.6 L-27.5,0 L-32.6,-3.6 L-13.5,-1.7 L-16,-4.6Z" transform="translate(263.4,128.1) rotate(-59.7)" fill="#fff" stroke="#ff3030" stroke-width="1.25" stroke-linejoin="miter"/><text x="229.8" y="12.2" font-size="7.33" font-weight="bold" fill="#222" text-anchor="start" textLength="25.5" lengthAdjust="spacingAndGlyphs">Слив в</text><text x="229.8" y="19.8" font-size="7.33" font-weight="bold" fill="#222" text-anchor="start" textLength="15.5" lengthAdjust="spacingAndGlyphs">ОГС</text><text x="274.7" y="65.1" font-size="7.33" font-weight="bold" fill="#222" text-anchor="start" textLength="40.5" lengthAdjust="spacingAndGlyphs">Нагнетание</text><text x="274.7" y="73.4" font-size="7.33" font-weight="bold" fill="#222" text-anchor="start" textLength="24.5" lengthAdjust="spacingAndGlyphs">из ОГС</text><text x="298" y="102.4" font-size="7.33" font-weight="bold" fill="#222" text-anchor="start" textLength="26.5" lengthAdjust="spacingAndGlyphs">Педали</text><text x="226" y="165.6" font-size="7.33" font-weight="bold" fill="#222" text-anchor="start" textLength="50" lengthAdjust="spacingAndGlyphs">Прямая связь</text><text x="226" y="174.8" font-size="7.33" font-weight="bold" fill="#222" text-anchor="start" textLength="47" lengthAdjust="spacingAndGlyphs">от педалей к</text><text x="226" y="184" font-size="7.33" font-weight="bold" fill="#222" text-anchor="start" textLength="37" lengthAdjust="spacingAndGlyphs">золотнику</text><text x="103.5" y="193" font-size="7.33" font-weight="bold" fill="#222" text-anchor="start" textLength="95" lengthAdjust="spacingAndGlyphs">Обратная связь от колеса</text><text x="103.5" y="202.3" font-size="7.33" font-weight="bold" fill="#222" text-anchor="start" textLength="69" lengthAdjust="spacingAndGlyphs">к гильзе золотника</text></g>
<g transform="translate(-1.1,234.6)"><path d="M222.3,45.2 V22.6" fill="none" stroke="#1c1c1c" stroke-width="6.4" stroke-linejoin="miter" stroke-linecap="butt"/><path d="M222.3,45.2 V22.6" fill="none" stroke="#ffff00" stroke-width="4.4" stroke-linejoin="miter" stroke-linecap="butt"/><path d="M222.3,110.8 V132" fill="none" stroke="#1c1c1c" stroke-width="6.4" stroke-linejoin="miter" stroke-linecap="butt"/><path d="M222.3,110.8 V132" fill="none" stroke="#ffff00" stroke-width="4.4" stroke-linejoin="miter" stroke-linecap="butt"/><path d="M254,78.3 H275.6" fill="none" stroke="#1c1c1c" stroke-width="5.0" stroke-linejoin="miter" stroke-linecap="butt"/><path d="M254,78.3 H275.6" fill="none" stroke="#ff0000" stroke-width="3.5" stroke-linejoin="miter" stroke-linecap="butt"/><circle cx="221.2" cy="78.0" r="36.5" fill="#1c1c1c"/><path d="M203.4,47.17 A35.6,35.6 0 0 1 210.2,44.14 L212.05,49.85 A29.6,29.6 0 0 0 206.4,52.37 Z" fill="#646a6e" stroke="#1c1c1c" stroke-width="0.9" stroke-linejoin="round"/><path d="M210.2,44.14 A35.6,35.6 0 0 1 237.64,46.42 L234.87,51.74 A29.6,29.6 0 0 0 212.05,49.85 Z" fill="#ffff00" stroke="#1c1c1c" stroke-width="0.9" stroke-linejoin="round"/><path d="M237.64,46.42 A35.6,35.6 0 0 1 251.87,59.93 L246.7,62.98 A29.6,29.6 0 0 0 234.87,51.74 Z" fill="#646a6e" stroke="#1c1c1c" stroke-width="0.9" stroke-linejoin="round"/><path d="M251.87,59.93 A35.6,35.6 0 0 1 252.34,95.26 L247.09,92.35 A29.6,29.6 0 0 0 246.7,62.98 Z" fill="#ff0000" stroke="#1c1c1c" stroke-width="0.9" stroke-linejoin="round"/><path d="M252.34,95.26 A35.6,35.6 0 0 1 240.33,108.02 L237.1,102.96 A29.6,29.6 0 0 0 247.09,92.35 Z" fill="#646a6e" stroke="#1c1c1c" stroke-width="0.9" stroke-linejoin="round"/><path d="M240.33,108.02 A35.6,35.6 0 0 1 212.59,112.54 L214.04,106.72 A29.6,29.6 0 0 0 237.1,102.96 Z" fill="#ffff00" stroke="#1c1c1c" stroke-width="0.9" stroke-linejoin="round"/><path d="M212.59,112.54 A35.6,35.6 0 0 1 204.49,109.43 L207.3,104.14 A29.6,29.6 0 0 0 214.04,106.72 Z" fill="#646a6e" stroke="#1c1c1c" stroke-width="0.9" stroke-linejoin="round"/><path d="M204.49,109.43 A35.6,35.6 0 0 1 185.74,81.1 L191.71,80.58 A29.6,29.6 0 0 0 207.3,104.14 Z" fill="#99cc00" stroke="#1c1c1c" stroke-width="0.9" stroke-linejoin="round"/><path d="M185.74,81.1 A35.6,35.6 0 0 1 185.74,74.9 L191.71,75.42 A29.6,29.6 0 0 0 191.71,80.58 Z" fill="#646a6e" stroke="#1c1c1c" stroke-width="0.9" stroke-linejoin="round"/><path d="M185.74,74.9 A35.6,35.6 0 0 1 203.4,47.17 L206.4,52.37 A29.6,29.6 0 0 0 191.71,75.42 Z" fill="#99cc00" stroke="#1c1c1c" stroke-width="0.9" stroke-linejoin="round"/><rect x="220.05" y="40.3" width="4.5" height="3" fill="#ffff00"/><rect x="220.05" y="112.7" width="4.5" height="3" fill="#ffff00"/><rect x="255.9" y="76.55" width="3" height="3.5" fill="#ff0000"/><path d="M77,168.2 H46 V41.7 H171 V52.4 H191.23 L199,59.04" fill="none" stroke="#1c1c1c" stroke-width="5.2" stroke-linejoin="miter" stroke-linecap="butt"/><path d="M77,168.2 H46 V41.7 H171 V52.4 H191.23 L199,59.04" fill="none" stroke="#99cc00" stroke-width="3.3" stroke-linejoin="miter" stroke-linecap="butt"/><path d="M93,52.8 H159.6 V104.1 H187.79 L198.19,95.98" fill="none" stroke="#1c1c1c" stroke-width="5.2" stroke-linejoin="miter" stroke-linecap="butt"/><path d="M93,52.8 H159.6 V104.1 H187.79 L198.19,95.98" fill="none" stroke="#99cc00" stroke-width="3.3" stroke-linejoin="miter" stroke-linecap="butt"/><path d="M222.3,5.6 L225.6,12.96 L224.4,12.39 L225,16.26 L224.3,15.79 L224.8,22.2 L222.3,20.12 L219.8,22.2 L220.3,15.79 L219.6,16.26 L220.2,12.39 L219,12.96Z" fill="#ffc21e" stroke="#ff2a1a" stroke-width="1.3" stroke-linejoin="miter"/><path d="M222.3,149.6 L225.6,142.24 L224.4,142.81 L225,138.94 L224.3,139.41 L224.8,133 L222.3,135.07 L219.8,133 L220.3,139.41 L219.6,138.94 L220.2,142.81 L219,142.24Z" fill="#ffc21e" stroke="#ff2a1a" stroke-width="1.3" stroke-linejoin="miter"/><path d="M281.2,78.3 L288.4,75 L287.8,76.3 L291.7,75.4 L291.2,76.4 L298.2,75.4 L295.8,78.3 L298.2,81.2 L291.2,80.2 L291.7,81.2 L287.8,80.3 L288.4,81.6Z" fill="#ff7a6a" stroke="#ff2020" stroke-width="0.9" stroke-linejoin="miter"/><path d="M78,86.8 H66.5 V134.4 H78" fill="none" stroke="#1c1c1c" stroke-width="5.2" stroke-linejoin="miter" stroke-linecap="butt"/><path d="M78,86.8 H66.5 V134.4 H78" fill="none" stroke="#99cc00" stroke-width="3.3" stroke-linejoin="miter" stroke-linecap="butt"/><path d="M75.3,48.2 H95.0 V91 H76.3 V72.7 H75.3 Z" fill="#1c1c1c" stroke="#1c1c1c" stroke-width="1.3" stroke-linejoin="miter"/><rect x="75.7" y="48.6" width="18.9" height="14.4" fill="#99cc00"/><rect x="76.7" y="72.7" width="17.9" height="17.9" fill="#99cc00"/><rect x="75" y="85.1" width="3" height="3.4" fill="#99cc00"/><path d="M76.3,130.2 H95.0 V173.3 H75.3 V144 H76.3 Z" fill="#1c1c1c" stroke="#1c1c1c" stroke-width="1.3"/><rect x="76.7" y="130.6" width="17.9" height="13.4" fill="#99cc00"/><rect x="75.7" y="153.7" width="18.9" height="19.2" fill="#99cc00"/><rect x="75" y="132.7" width="3" height="3.4" fill="#99cc00"/><rect x="83.4" y="72.7" width="3.0" height="71.3" fill="#8a8a8a" stroke="#555" stroke-width="0.4"/><path d="M86.4,79.7 l2.4,0.9 l-2.4,0.9 M86.4,81.5 l2.4,0.9 l-2.4,0.9 M86.4,83.3 l2.4,0.9 l-2.4,0.9 M86.4,85.1 l2.4,0.9 l-2.4,0.9 M86.4,86.9 l2.4,0.9 l-2.4,0.9 M86.4,88.7 l2.4,0.9 l-2.4,0.9 M86.4,90.5 l2.4,0.9 l-2.4,0.9 M86.4,92.3 l2.4,0.9 l-2.4,0.9 M86.4,94.1 l2.4,0.9 l-2.4,0.9 M86.4,95.9 l2.4,0.9 l-2.4,0.9 M86.4,97.7 l2.4,0.9 l-2.4,0.9 M86.4,99.5 l2.4,0.9 l-2.4,0.9 M86.4,101.3 l2.4,0.9 l-2.4,0.9 M86.4,103.1 l2.4,0.9 l-2.4,0.9 M86.4,104.9 l2.4,0.9 l-2.4,0.9 M86.4,106.7 l2.4,0.9 l-2.4,0.9 M86.4,108.5 l2.4,0.9 l-2.4,0.9 M86.4,110.3 l2.4,0.9 l-2.4,0.9 M86.4,112.1 l2.4,0.9 l-2.4,0.9 M86.4,113.9 l2.4,0.9 l-2.4,0.9 M86.4,115.7 l2.4,0.9 l-2.4,0.9 M86.4,117.5 l2.4,0.9 l-2.4,0.9 M86.4,119.3 l2.4,0.9 l-2.4,0.9 M86.4,121.1 l2.4,0.9 l-2.4,0.9 M86.4,122.9 l2.4,0.9 l-2.4,0.9 M86.4,124.7 l2.4,0.9 l-2.4,0.9 M86.4,126.5 l2.4,0.9 l-2.4,0.9 M86.4,128.3 l2.4,0.9 l-2.4,0.9 M86.4,130.1 l2.4,0.9 l-2.4,0.9 M86.4,131.9 l2.4,0.9 l-2.4,0.9 M86.4,133.7 l2.4,0.9 l-2.4,0.9 M86.4,135.5 l2.4,0.9 l-2.4,0.9 " fill="#b5b5b5" stroke="#6a6a6a" stroke-width="0.6"/><rect x="82.0" y="72.7" width="5.8" height="4.2" fill="#6e6e6e" stroke="#1c1c1c" stroke-width="0.9"/><rect x="82.0" y="139.8" width="5.8" height="4.2" fill="#6e6e6e" stroke="#1c1c1c" stroke-width="0.9"/><rect x="75.3" y="63" width="19.7" height="9.7" fill="url(#pg)" stroke="#1c1c1c" stroke-width="1.1"/><rect x="75.3" y="144" width="19.7" height="9.7" fill="url(#pg)" stroke="#1c1c1c" stroke-width="1.1"/><path d="M75.3,59 L67.7,54.2 L67.7,63.8 Z" fill="#fff" stroke="#1c1c1c" stroke-width="1.1"/><path d="M67.7,50.2 V68.8" stroke="#1c1c1c" stroke-width="1.1"/><path d="M67.7,52.6 l-2.6,-1.8" stroke="#333" stroke-width="0.8"/><path d="M67.7,56.3 l-2.6,-1.8" stroke="#333" stroke-width="0.8"/><path d="M67.7,60 l-2.6,-1.8" stroke="#333" stroke-width="0.8"/><path d="M67.7,63.7 l-2.6,-1.8" stroke="#333" stroke-width="0.8"/><path d="M67.7,67.4 l-2.6,-1.8" stroke="#333" stroke-width="0.8"/><path d="M95.4,168 L103,163.2 L103,172.8 Z" fill="#fff" stroke="#1c1c1c" stroke-width="1.1"/><path d="M103,159.2 V177.8" stroke="#1c1c1c" stroke-width="1.1"/><path d="M103,161.6 l2.6,-1.8" stroke="#333" stroke-width="0.8"/><path d="M103,165.3 l2.6,-1.8" stroke="#333" stroke-width="0.8"/><path d="M103,169 l2.6,-1.8" stroke="#333" stroke-width="0.8"/><path d="M103,172.7 l2.6,-1.8" stroke="#333" stroke-width="0.8"/><path d="M103,176.4 l2.6,-1.8" stroke="#333" stroke-width="0.8"/><path d="M104.29,149.9 L193.6,146.4" stroke="#666" stroke-width="3.2"/><path d="M104.79,149.9 L193.3,146.4" stroke="#f4f4f4" stroke-width="1.5"/><circle cx="104.29" cy="149.9" r="1.5" fill="#1c1c1c"/><circle cx="193.6" cy="146.4" r="1.5" fill="#1c1c1c"/><path d="M193.6,146.4 L203.6,105" stroke="#1c1c1c" stroke-width="1.2"/><g transform="rotate(9 100.3 111.2)"><path d="M100.04,121.9 L99.7,123.89 L98.69,123.8 L98.7,121.78 L97.63,121.56 L96.85,123.42 L95.88,123.11 L96.35,121.14 L95.35,120.69 L94.17,122.32 L93.3,121.8 L94.2,119.99 L93.33,119.32 L91.81,120.65 L91.08,119.94 L92.37,118.38 L91.68,117.53 L89.9,118.48 L89.35,117.63 L90.95,116.4 L90.47,115.42 L88.52,115.94 L88.18,114.98 L90.02,114.15 L89.77,113.08 L87.75,113.15 L87.63,112.14 L89.61,111.75 L89.61,110.65 L87.63,110.26 L87.75,109.25 L89.77,109.32 L90.02,108.25 L88.18,107.42 L88.52,106.46 L90.47,106.98 L90.95,106 L89.35,104.77 L89.9,103.92 L91.68,104.87 L92.37,104.02 L91.08,102.46 L91.81,101.75 L93.33,103.08 L94.2,102.41 L93.3,100.6 L94.17,100.08 L95.35,101.71 L96.35,101.26 L95.88,99.29 L96.85,98.98 L97.63,100.84 L98.7,100.62 L98.69,98.6 L99.7,98.51 L100.04,100.5 L99.59,103.03 L97.76,103.4 L96.06,104.18 L94.58,105.32 L93.4,106.77 L92.58,108.45 L92.15,110.27 L92.15,112.13 L92.58,113.95 L93.4,115.63 L94.58,117.08 L96.06,118.22 L97.76,119 L99.59,119.37Z" fill="#ff8a2a"/><path d="M97.56,118.72 A8,8 0 0 1 97.56,103.68" fill="none" stroke="#3b5bb5" stroke-width="0.7"/><path d="M96.9,126.4 Q99,128.8 103,128.5 Q114,127.8 122.9,121.6 L122.9,118.6 L120,118.6 Q111,125.1 101,125.6 Q99,125.4 98.2,123.4 Z" fill="#fff" stroke="#1c1c1c" stroke-width="1.05" stroke-linejoin="round"/><path d="M102.3,122.8 Q110,123.2 117.8,118.8 L102.6,118.5 Z" fill="#fff" stroke="#1c1c1c" stroke-width="1.05" stroke-linejoin="round"/><path d="M96.9,96 Q99,93.6 103,93.9 Q114,94.6 122.9,100.8 L122.9,103.8 L120,103.8 Q111,97.3 101,96.8 Q99,97 98.2,99 Z" fill="#fff" stroke="#1c1c1c" stroke-width="1.05" stroke-linejoin="round"/><path d="M102.3,99.6 Q110,99.2 117.8,103.6 L102.6,103.9 Z" fill="#fff" stroke="#1c1c1c" stroke-width="1.05" stroke-linejoin="round"/><path d="M96.8,124.9 L110.3,148.8 L103.5,127.3" fill="#fff" stroke="#1c1c1c" stroke-width="1.05" stroke-linejoin="round"/><path d="M100,103.6 H145.6 L148.7,106.6 V115.6 L145.6,118.7 H100 Z" fill="url(#wg)" stroke="#1c1c1c" stroke-width="1.1" stroke-linejoin="round"/><path d="M106,106.3 H147.5" stroke="#b9b9b9" stroke-width="0.4"/><path d="M106,108.6 H147.5" stroke="#b9b9b9" stroke-width="0.4"/><path d="M106,113.6 H147.5" stroke="#b9b9b9" stroke-width="0.4"/><path d="M106,116.2 H147.5" stroke="#b9b9b9" stroke-width="0.4"/><circle cx="100.3" cy="111.2" r="6.3" fill="#747474" stroke="#1c1c1c" stroke-width="1.2"/><circle cx="100.3" cy="111.2" r="4.2" fill="#7e7e7e"/></g><path d="M286.7,113.0 L299.1,174.3 M301.7,113.0 L314.1,174.3 M286.7,113.0 H308.8 M299.1,174.3 H321.2" stroke="#1c1c1c" stroke-width="1.2" fill="none"/><path d="M2.6,-5.4 H0 V5.4 H2.6" transform="translate(308.8,113) rotate(-11.44)" stroke="#1c1c1c" stroke-width="1.2" fill="none"/><path d="M2.6,-5.4 H0 V5.4 H2.6" transform="translate(321.2,174.3) rotate(-11.44)" stroke="#1c1c1c" stroke-width="1.2" fill="none"/><path d="M292.9,143.65 L285.3,138.85 L285.3,148.45 Z" fill="#fff" stroke="#1c1c1c" stroke-width="1.1"/><path d="M285.3,134.85 V153.45" stroke="#1c1c1c" stroke-width="1.1"/><path d="M285.3,137.25 l-2.6,-1.8" stroke="#333" stroke-width="0.8"/><path d="M285.3,140.95 l-2.6,-1.8" stroke="#333" stroke-width="0.8"/><path d="M285.3,144.65 l-2.6,-1.8" stroke="#333" stroke-width="0.8"/><path d="M285.3,148.35 l-2.6,-1.8" stroke="#333" stroke-width="0.8"/><path d="M285.3,152.05 l-2.6,-1.8" stroke="#333" stroke-width="0.8"/><path d="M307.9,143.65 L300.3,138.85 L300.3,148.45 Z" fill="#fff" stroke="#1c1c1c" stroke-width="1.1"/><path d="M300.3,134.85 V153.45" stroke="#1c1c1c" stroke-width="1.1"/><path d="M300.3,137.25 l-2.6,-1.8" stroke="#333" stroke-width="0.8"/><path d="M300.3,140.95 l-2.6,-1.8" stroke="#333" stroke-width="0.8"/><path d="M300.3,144.65 l-2.6,-1.8" stroke="#333" stroke-width="0.8"/><path d="M300.3,148.35 l-2.6,-1.8" stroke="#333" stroke-width="0.8"/><path d="M300.3,152.05 l-2.6,-1.8" stroke="#333" stroke-width="0.8"/><path d="M246,125.2 L288.78,123.3" stroke="#666" stroke-width="3.2"/><path d="M246.5,125.2 L288.48,123.3" stroke="#f4f4f4" stroke-width="1.5"/><path d="M246,125.2 L239,109" stroke="#1c1c1c" stroke-width="1.2"/><circle cx="221.2" cy="78.0" r="30.400000000000002" fill="#1c1c1c"/><circle cx="221.2" cy="78.0" r="29.2" fill="#eba26f"/><circle cx="221.2" cy="78.0" r="22.5" fill="#1c1c1c"/><g transform="rotate(6 221.2 78.0)"><circle cx="221.2" cy="78.0" r="21.6" fill="#7a3a04"/><path d="M206.91,61.27 A22,22 0 0 1 235.49,61.27 A26.79,26.79 0 0 1 206.91,61.27 Z" fill="#ffff00" stroke="#1c1c1c" stroke-width="1.0" stroke-linejoin="round"/><path d="M235.49,94.73 A22,22 0 0 1 206.91,94.73 A28.57,28.57 0 0 1 235.49,94.73 Z" fill="#ffff00" stroke="#1c1c1c" stroke-width="1.0" stroke-linejoin="round"/><path d="M203.4,90.93 A22,22 0 0 1 203.4,65.07 A31.28,31.28 0 0 1 203.4,90.93 Z" fill="#ff0000" stroke="#1c1c1c" stroke-width="1.0" stroke-linejoin="round"/><path d="M239,65.07 A22,22 0 0 1 239,90.93 A20.84,20.84 0 0 1 239,65.07 Z" fill="#ff0000" stroke="#1c1c1c" stroke-width="1.0" stroke-linejoin="round"/><path d="M206.2,73.65 Q206.5,75.55 209.4,75.55 H231.3 Q234.2,75.55 234.5,73.65 V82.95 Q234.2,81.05 231.3,81.05 H209.4 Q206.5,81.05 206.2,82.95 Z" fill="#1c1c1c"/><path d="M205,74.5 Q206.5,76.4 209.4,76.4 H231.3 Q234.2,76.4 235.7,74.5 V82.1 Q234.2,80.2 231.3,80.2 H209.4 Q206.5,80.2 205,82.1 Z" fill="#ff0000"/><path d="M225.5,84.3 L239.5,96.5 M225.5,84.3 L220.4,88.6 M225.9,84.9 L235.4,97.1" stroke="#1e0e04" stroke-width="1.25" fill="none" stroke-linecap="round"/></g><g transform="rotate(6 221.2 78.0)"><rect x="219.5" y="47.8" width="5.6" height="9.4" fill="#1c1c1c"/><rect x="220.3" y="47.8" width="4" height="9.4" fill="#ffff00"/><rect x="219.5" y="98.8" width="5.6" height="9.4" fill="#1c1c1c"/><rect x="220.3" y="98.8" width="4" height="9.4" fill="#ffff00"/><rect x="242" y="75.75" width="9.4" height="5.1" fill="#1c1c1c"/><rect x="242" y="76.55" width="9.4" height="3.5" fill="#ff0000"/></g><path d="M206.68,62.69 L200.34,56.02" stroke="#1c1c1c" stroke-width="5.4"/><path d="M206.68,62.69 L200.34,56.02" stroke="#99cc00" stroke-width="3.8"/><path d="M203.31,89.18 L195.5,94.06" stroke="#1c1c1c" stroke-width="5.4"/><path d="M203.31,89.18 L195.5,94.06" stroke="#99cc00" stroke-width="3.8"/><g transform="rotate(6 221.2 78.0)"><path d="M203.95,96.5 A25.3,25.3 0 0 0 216.37,102.84" fill="none" stroke="#1c1c1c" stroke-width="3.2" stroke-linecap="round"/><path d="M203.95,96.5 A25.3,25.3 0 0 0 216.37,102.84" fill="none" stroke="#e09a68" stroke-width="1.3" stroke-linecap="round"/></g><path d="M-1.6,0 L-16,4.6 L-13.5,1.7 L-32.6,3.6 L-27.5,0 L-32.6,-3.6 L-13.5,-1.7 L-16,-4.6Z" transform="translate(195,50.5) rotate(60.7)" fill="#fff" stroke="#ff3030" stroke-width="1.25" stroke-linejoin="miter"/><path d="M-1.6,0 L-16,4.6 L-13.5,1.7 L-32.6,3.6 L-27.5,0 L-32.6,-3.6 L-13.5,-1.7 L-16,-4.6Z" transform="translate(158.8,151.9) rotate(-59.7)" fill="#fff" stroke="#ff3030" stroke-width="1.25" stroke-linejoin="miter"/><path d="M-1.6,0 L-16,4.6 L-13.5,1.7 L-32.6,3.6 L-27.5,0 L-32.6,-3.6 L-13.5,-1.7 L-16,-4.6Z" transform="translate(263.4,128.1) rotate(-59.7)" fill="#fff" stroke="#ff3030" stroke-width="1.25" stroke-linejoin="miter"/><text x="229.8" y="12.2" font-size="7.33" font-weight="bold" fill="#222" text-anchor="start" textLength="25.5" lengthAdjust="spacingAndGlyphs">Слив в</text><text x="229.8" y="19.8" font-size="7.33" font-weight="bold" fill="#222" text-anchor="start" textLength="15.5" lengthAdjust="spacingAndGlyphs">ОГС</text><text x="274.7" y="65.1" font-size="7.33" font-weight="bold" fill="#222" text-anchor="start" textLength="40.5" lengthAdjust="spacingAndGlyphs">Нагнетание</text><text x="274.7" y="73.4" font-size="7.33" font-weight="bold" fill="#222" text-anchor="start" textLength="24.5" lengthAdjust="spacingAndGlyphs">из ОГС</text><text x="298" y="102.4" font-size="7.33" font-weight="bold" fill="#222" text-anchor="start" textLength="26.5" lengthAdjust="spacingAndGlyphs">Педали</text><text x="226" y="165.6" font-size="7.33" font-weight="bold" fill="#222" text-anchor="start" textLength="50" lengthAdjust="spacingAndGlyphs">Прямая связь</text><text x="226" y="174.8" font-size="7.33" font-weight="bold" fill="#222" text-anchor="start" textLength="47" lengthAdjust="spacingAndGlyphs">от педалей к</text><text x="226" y="184" font-size="7.33" font-weight="bold" fill="#222" text-anchor="start" textLength="37" lengthAdjust="spacingAndGlyphs">золотнику</text><text x="103.5" y="193" font-size="7.33" font-weight="bold" fill="#222" text-anchor="start" textLength="95" lengthAdjust="spacingAndGlyphs">Обратная связь от колеса</text><text x="103.5" y="202.3" font-size="7.33" font-weight="bold" fill="#222" text-anchor="start" textLength="69" lengthAdjust="spacingAndGlyphs">к гильзе золотника</text></g>
<g transform="translate(342,234)"><path d="M222.3,45.2 V22.6" fill="none" stroke="#1c1c1c" stroke-width="6.4" stroke-linejoin="miter" stroke-linecap="butt"/><path d="M222.3,45.2 V22.6" fill="none" stroke="#ffff00" stroke-width="4.4" stroke-linejoin="miter" stroke-linecap="butt"/><path d="M222.3,110.8 V132" fill="none" stroke="#1c1c1c" stroke-width="6.4" stroke-linejoin="miter" stroke-linecap="butt"/><path d="M222.3,110.8 V132" fill="none" stroke="#ffff00" stroke-width="4.4" stroke-linejoin="miter" stroke-linecap="butt"/><path d="M254,78.3 H275.6" fill="none" stroke="#1c1c1c" stroke-width="5.0" stroke-linejoin="miter" stroke-linecap="butt"/><path d="M254,78.3 H275.6" fill="none" stroke="#ff0000" stroke-width="3.5" stroke-linejoin="miter" stroke-linecap="butt"/><circle cx="221.2" cy="78.0" r="36.5" fill="#1c1c1c"/><path d="M203.4,47.17 A35.6,35.6 0 0 1 210.2,44.14 L212.05,49.85 A29.6,29.6 0 0 0 206.4,52.37 Z" fill="#646a6e" stroke="#1c1c1c" stroke-width="0.9" stroke-linejoin="round"/><path d="M210.2,44.14 A35.6,35.6 0 0 1 237.64,46.42 L234.87,51.74 A29.6,29.6 0 0 0 212.05,49.85 Z" fill="#ffff00" stroke="#1c1c1c" stroke-width="0.9" stroke-linejoin="round"/><path d="M237.64,46.42 A35.6,35.6 0 0 1 251.87,59.93 L246.7,62.98 A29.6,29.6 0 0 0 234.87,51.74 Z" fill="#646a6e" stroke="#1c1c1c" stroke-width="0.9" stroke-linejoin="round"/><path d="M251.87,59.93 A35.6,35.6 0 0 1 252.34,95.26 L247.09,92.35 A29.6,29.6 0 0 0 246.7,62.98 Z" fill="#ff0000" stroke="#1c1c1c" stroke-width="0.9" stroke-linejoin="round"/><path d="M252.34,95.26 A35.6,35.6 0 0 1 240.33,108.02 L237.1,102.96 A29.6,29.6 0 0 0 247.09,92.35 Z" fill="#646a6e" stroke="#1c1c1c" stroke-width="0.9" stroke-linejoin="round"/><path d="M240.33,108.02 A35.6,35.6 0 0 1 212.59,112.54 L214.04,106.72 A29.6,29.6 0 0 0 237.1,102.96 Z" fill="#ffff00" stroke="#1c1c1c" stroke-width="0.9" stroke-linejoin="round"/><path d="M212.59,112.54 A35.6,35.6 0 0 1 204.49,109.43 L207.3,104.14 A29.6,29.6 0 0 0 214.04,106.72 Z" fill="#646a6e" stroke="#1c1c1c" stroke-width="0.9" stroke-linejoin="round"/><path d="M204.49,109.43 A35.6,35.6 0 0 1 185.74,81.1 L191.71,80.58 A29.6,29.6 0 0 0 207.3,104.14 Z" fill="#ffff00" stroke="#1c1c1c" stroke-width="0.9" stroke-linejoin="round"/><path d="M185.74,81.1 A35.6,35.6 0 0 1 185.74,74.9 L191.71,75.42 A29.6,29.6 0 0 0 191.71,80.58 Z" fill="#646a6e" stroke="#1c1c1c" stroke-width="0.9" stroke-linejoin="round"/><path d="M185.74,74.9 A35.6,35.6 0 0 1 203.4,47.17 L206.4,52.37 A29.6,29.6 0 0 0 191.71,75.42 Z" fill="#ff0000" stroke="#1c1c1c" stroke-width="0.9" stroke-linejoin="round"/><rect x="220.05" y="40.3" width="4.5" height="3" fill="#ffff00"/><rect x="220.05" y="112.7" width="4.5" height="3" fill="#ffff00"/><rect x="255.9" y="76.55" width="3" height="3.5" fill="#ff0000"/><path d="M77,168.2 H46 V41.7 H171 V52.4 H191.23 L199,59.04" fill="none" stroke="#1c1c1c" stroke-width="5.2" stroke-linejoin="miter" stroke-linecap="butt"/><path d="M77,168.2 H46 V41.7 H171 V52.4 H191.23 L199,59.04" fill="none" stroke="#ff0000" stroke-width="3.3" stroke-linejoin="miter" stroke-linecap="butt"/><path d="M93,52.8 H159.6 V104.1 H187.79 L198.19,95.98" fill="none" stroke="#1c1c1c" stroke-width="5.2" stroke-linejoin="miter" stroke-linecap="butt"/><path d="M93,52.8 H159.6 V104.1 H187.79 L198.19,95.98" fill="none" stroke="#ffff00" stroke-width="3.3" stroke-linejoin="miter" stroke-linecap="butt"/><path d="M222.3,5.6 L225.6,12.96 L224.4,12.39 L225,16.26 L224.3,15.79 L224.8,22.2 L222.3,20.12 L219.8,22.2 L220.3,15.79 L219.6,16.26 L220.2,12.39 L219,12.96Z" fill="#ffc21e" stroke="#ff2a1a" stroke-width="1.3" stroke-linejoin="miter"/><path d="M222.3,149.6 L225.6,142.24 L224.4,142.81 L225,138.94 L224.3,139.41 L224.8,133 L222.3,135.07 L219.8,133 L220.3,139.41 L219.6,138.94 L220.2,142.81 L219,142.24Z" fill="#ffc21e" stroke="#ff2a1a" stroke-width="1.3" stroke-linejoin="miter"/><path d="M281.2,78.3 L288.4,75 L287.8,76.3 L291.7,75.4 L291.2,76.4 L298.2,75.4 L295.8,78.3 L298.2,81.2 L291.2,80.2 L291.7,81.2 L287.8,80.3 L288.4,81.6Z" fill="#ff7a6a" stroke="#ff2020" stroke-width="0.9" stroke-linejoin="miter"/><path d="M78,86.8 H66.5 V134.4 H78" fill="none" stroke="#1c1c1c" stroke-width="5.2" stroke-linejoin="miter" stroke-linecap="butt"/><path d="M78,86.8 H66.5 V134.4 H78" fill="none" stroke="#99cc00" stroke-width="3.3" stroke-linejoin="miter" stroke-linecap="butt"/><path d="M75.3,48.2 H95.0 V91 H76.3 V72.7 H75.3 Z" fill="#1c1c1c" stroke="#1c1c1c" stroke-width="1.3" stroke-linejoin="miter"/><rect x="75.7" y="48.6" width="18.9" height="14.4" fill="#ffff00"/><rect x="76.7" y="72.7" width="17.9" height="17.9" fill="#99cc00"/><rect x="75" y="85.1" width="3" height="3.4" fill="#99cc00"/><path d="M76.3,130.2 H95.0 V173.3 H75.3 V144 H76.3 Z" fill="#1c1c1c" stroke="#1c1c1c" stroke-width="1.3"/><rect x="76.7" y="130.6" width="17.9" height="13.4" fill="#99cc00"/><rect x="75.7" y="153.7" width="18.9" height="19.2" fill="#ff0000"/><rect x="75" y="132.7" width="3" height="3.4" fill="#99cc00"/><rect x="83.4" y="72.7" width="3.0" height="71.3" fill="#8a8a8a" stroke="#555" stroke-width="0.4"/><path d="M86.4,79.7 l2.4,0.9 l-2.4,0.9 M86.4,81.5 l2.4,0.9 l-2.4,0.9 M86.4,83.3 l2.4,0.9 l-2.4,0.9 M86.4,85.1 l2.4,0.9 l-2.4,0.9 M86.4,86.9 l2.4,0.9 l-2.4,0.9 M86.4,88.7 l2.4,0.9 l-2.4,0.9 M86.4,90.5 l2.4,0.9 l-2.4,0.9 M86.4,92.3 l2.4,0.9 l-2.4,0.9 M86.4,94.1 l2.4,0.9 l-2.4,0.9 M86.4,95.9 l2.4,0.9 l-2.4,0.9 M86.4,97.7 l2.4,0.9 l-2.4,0.9 M86.4,99.5 l2.4,0.9 l-2.4,0.9 M86.4,101.3 l2.4,0.9 l-2.4,0.9 M86.4,103.1 l2.4,0.9 l-2.4,0.9 M86.4,104.9 l2.4,0.9 l-2.4,0.9 M86.4,106.7 l2.4,0.9 l-2.4,0.9 M86.4,108.5 l2.4,0.9 l-2.4,0.9 M86.4,110.3 l2.4,0.9 l-2.4,0.9 M86.4,112.1 l2.4,0.9 l-2.4,0.9 M86.4,113.9 l2.4,0.9 l-2.4,0.9 M86.4,115.7 l2.4,0.9 l-2.4,0.9 M86.4,117.5 l2.4,0.9 l-2.4,0.9 M86.4,119.3 l2.4,0.9 l-2.4,0.9 M86.4,121.1 l2.4,0.9 l-2.4,0.9 M86.4,122.9 l2.4,0.9 l-2.4,0.9 M86.4,124.7 l2.4,0.9 l-2.4,0.9 M86.4,126.5 l2.4,0.9 l-2.4,0.9 M86.4,128.3 l2.4,0.9 l-2.4,0.9 M86.4,130.1 l2.4,0.9 l-2.4,0.9 M86.4,131.9 l2.4,0.9 l-2.4,0.9 M86.4,133.7 l2.4,0.9 l-2.4,0.9 M86.4,135.5 l2.4,0.9 l-2.4,0.9 " fill="#b5b5b5" stroke="#6a6a6a" stroke-width="0.6"/><rect x="82.0" y="72.7" width="5.8" height="4.2" fill="#6e6e6e" stroke="#1c1c1c" stroke-width="0.9"/><rect x="82.0" y="139.8" width="5.8" height="4.2" fill="#6e6e6e" stroke="#1c1c1c" stroke-width="0.9"/><rect x="75.3" y="63" width="19.7" height="9.7" fill="url(#pg)" stroke="#1c1c1c" stroke-width="1.1"/><rect x="75.3" y="144" width="19.7" height="9.7" fill="url(#pg)" stroke="#1c1c1c" stroke-width="1.1"/><path d="M75.3,59 L67.7,54.2 L67.7,63.8 Z" fill="#fff" stroke="#1c1c1c" stroke-width="1.1"/><path d="M67.7,50.2 V68.8" stroke="#1c1c1c" stroke-width="1.1"/><path d="M67.7,52.6 l-2.6,-1.8" stroke="#333" stroke-width="0.8"/><path d="M67.7,56.3 l-2.6,-1.8" stroke="#333" stroke-width="0.8"/><path d="M67.7,60 l-2.6,-1.8" stroke="#333" stroke-width="0.8"/><path d="M67.7,63.7 l-2.6,-1.8" stroke="#333" stroke-width="0.8"/><path d="M67.7,67.4 l-2.6,-1.8" stroke="#333" stroke-width="0.8"/><path d="M95.4,168 L103,163.2 L103,172.8 Z" fill="#fff" stroke="#1c1c1c" stroke-width="1.1"/><path d="M103,159.2 V177.8" stroke="#1c1c1c" stroke-width="1.1"/><path d="M103,161.6 l2.6,-1.8" stroke="#333" stroke-width="0.8"/><path d="M103,165.3 l2.6,-1.8" stroke="#333" stroke-width="0.8"/><path d="M103,169 l2.6,-1.8" stroke="#333" stroke-width="0.8"/><path d="M103,172.7 l2.6,-1.8" stroke="#333" stroke-width="0.8"/><path d="M103,176.4 l2.6,-1.8" stroke="#333" stroke-width="0.8"/><path d="M104.29,149.9 L193.6,146.4" stroke="#666" stroke-width="3.2"/><path d="M104.79,149.9 L193.3,146.4" stroke="#f4f4f4" stroke-width="1.5"/><circle cx="104.29" cy="149.9" r="1.5" fill="#1c1c1c"/><circle cx="193.6" cy="146.4" r="1.5" fill="#1c1c1c"/><path d="M193.6,146.4 L203.6,105" stroke="#1c1c1c" stroke-width="1.2"/><g transform="rotate(9 100.3 111.2)"><path d="M100.04,121.9 L99.7,123.89 L98.69,123.8 L98.7,121.78 L97.63,121.56 L96.85,123.42 L95.88,123.11 L96.35,121.14 L95.35,120.69 L94.17,122.32 L93.3,121.8 L94.2,119.99 L93.33,119.32 L91.81,120.65 L91.08,119.94 L92.37,118.38 L91.68,117.53 L89.9,118.48 L89.35,117.63 L90.95,116.4 L90.47,115.42 L88.52,115.94 L88.18,114.98 L90.02,114.15 L89.77,113.08 L87.75,113.15 L87.63,112.14 L89.61,111.75 L89.61,110.65 L87.63,110.26 L87.75,109.25 L89.77,109.32 L90.02,108.25 L88.18,107.42 L88.52,106.46 L90.47,106.98 L90.95,106 L89.35,104.77 L89.9,103.92 L91.68,104.87 L92.37,104.02 L91.08,102.46 L91.81,101.75 L93.33,103.08 L94.2,102.41 L93.3,100.6 L94.17,100.08 L95.35,101.71 L96.35,101.26 L95.88,99.29 L96.85,98.98 L97.63,100.84 L98.7,100.62 L98.69,98.6 L99.7,98.51 L100.04,100.5 L99.59,103.03 L97.76,103.4 L96.06,104.18 L94.58,105.32 L93.4,106.77 L92.58,108.45 L92.15,110.27 L92.15,112.13 L92.58,113.95 L93.4,115.63 L94.58,117.08 L96.06,118.22 L97.76,119 L99.59,119.37Z" fill="#ff8a2a"/><path d="M97.56,118.72 A8,8 0 0 1 97.56,103.68" fill="none" stroke="#3b5bb5" stroke-width="0.7"/><path d="M96.9,126.4 Q99,128.8 103,128.5 Q114,127.8 122.9,121.6 L122.9,118.6 L120,118.6 Q111,125.1 101,125.6 Q99,125.4 98.2,123.4 Z" fill="#fff" stroke="#1c1c1c" stroke-width="1.05" stroke-linejoin="round"/><path d="M102.3,122.8 Q110,123.2 117.8,118.8 L102.6,118.5 Z" fill="#fff" stroke="#1c1c1c" stroke-width="1.05" stroke-linejoin="round"/><path d="M96.9,96 Q99,93.6 103,93.9 Q114,94.6 122.9,100.8 L122.9,103.8 L120,103.8 Q111,97.3 101,96.8 Q99,97 98.2,99 Z" fill="#fff" stroke="#1c1c1c" stroke-width="1.05" stroke-linejoin="round"/><path d="M102.3,99.6 Q110,99.2 117.8,103.6 L102.6,103.9 Z" fill="#fff" stroke="#1c1c1c" stroke-width="1.05" stroke-linejoin="round"/><path d="M96.8,124.9 L110.3,148.8 L103.5,127.3" fill="#fff" stroke="#1c1c1c" stroke-width="1.05" stroke-linejoin="round"/><path d="M100,103.6 H145.6 L148.7,106.6 V115.6 L145.6,118.7 H100 Z" fill="url(#wg)" stroke="#1c1c1c" stroke-width="1.1" stroke-linejoin="round"/><path d="M106,106.3 H147.5" stroke="#b9b9b9" stroke-width="0.4"/><path d="M106,108.6 H147.5" stroke="#b9b9b9" stroke-width="0.4"/><path d="M106,113.6 H147.5" stroke="#b9b9b9" stroke-width="0.4"/><path d="M106,116.2 H147.5" stroke="#b9b9b9" stroke-width="0.4"/><circle cx="100.3" cy="111.2" r="6.3" fill="#747474" stroke="#1c1c1c" stroke-width="1.2"/><circle cx="100.3" cy="111.2" r="4.2" fill="#7e7e7e"/></g><path d="M281.6,113.0 L304.2,174.3 M296.6,113.0 L319.2,174.3 M281.6,113.0 H303.7 M304.2,174.3 H326.3" stroke="#1c1c1c" stroke-width="1.2" fill="none"/><path d="M2.6,-5.4 H0 V5.4 H2.6" transform="translate(303.7,113) rotate(-20.24)" stroke="#1c1c1c" stroke-width="1.2" fill="none"/><path d="M2.6,-5.4 H0 V5.4 H2.6" transform="translate(326.3,174.3) rotate(-20.24)" stroke="#1c1c1c" stroke-width="1.2" fill="none"/><path d="M292.9,143.65 L285.3,138.85 L285.3,148.45 Z" fill="#fff" stroke="#1c1c1c" stroke-width="1.1"/><path d="M285.3,134.85 V153.45" stroke="#1c1c1c" stroke-width="1.1"/><path d="M285.3,137.25 l-2.6,-1.8" stroke="#333" stroke-width="0.8"/><path d="M285.3,140.95 l-2.6,-1.8" stroke="#333" stroke-width="0.8"/><path d="M285.3,144.65 l-2.6,-1.8" stroke="#333" stroke-width="0.8"/><path d="M285.3,148.35 l-2.6,-1.8" stroke="#333" stroke-width="0.8"/><path d="M285.3,152.05 l-2.6,-1.8" stroke="#333" stroke-width="0.8"/><path d="M307.9,143.65 L300.3,138.85 L300.3,148.45 Z" fill="#fff" stroke="#1c1c1c" stroke-width="1.1"/><path d="M300.3,134.85 V153.45" stroke="#1c1c1c" stroke-width="1.1"/><path d="M300.3,137.25 l-2.6,-1.8" stroke="#333" stroke-width="0.8"/><path d="M300.3,140.95 l-2.6,-1.8" stroke="#333" stroke-width="0.8"/><path d="M300.3,144.65 l-2.6,-1.8" stroke="#333" stroke-width="0.8"/><path d="M300.3,148.35 l-2.6,-1.8" stroke="#333" stroke-width="0.8"/><path d="M300.3,152.05 l-2.6,-1.8" stroke="#333" stroke-width="0.8"/><path d="M242.5,127 L285.4,123.3" stroke="#666" stroke-width="3.2"/><path d="M243,127 L285.1,123.3" stroke="#f4f4f4" stroke-width="1.5"/><path d="M242.5,127 L238.1,110.7" stroke="#1c1c1c" stroke-width="1.2"/><circle cx="221.2" cy="78.0" r="30.400000000000002" fill="#1c1c1c"/><circle cx="221.2" cy="78.0" r="29.2" fill="#eba26f"/><circle cx="221.2" cy="78.0" r="22.5" fill="#1c1c1c"/><g transform="rotate(12 221.2 78.0)"><circle cx="221.2" cy="78.0" r="21.6" fill="#7a3a04"/><path d="M206.91,61.27 A22,22 0 0 1 235.49,61.27 A26.79,26.79 0 0 1 206.91,61.27 Z" fill="#ffff00" stroke="#1c1c1c" stroke-width="1.0" stroke-linejoin="round"/><path d="M235.49,94.73 A22,22 0 0 1 206.91,94.73 A28.57,28.57 0 0 1 235.49,94.73 Z" fill="#ffff00" stroke="#1c1c1c" stroke-width="1.0" stroke-linejoin="round"/><path d="M203.4,90.93 A22,22 0 0 1 203.4,65.07 A31.28,31.28 0 0 1 203.4,90.93 Z" fill="#ff0000" stroke="#1c1c1c" stroke-width="1.0" stroke-linejoin="round"/><path d="M239,65.07 A22,22 0 0 1 239,90.93 A20.84,20.84 0 0 1 239,65.07 Z" fill="#ff0000" stroke="#1c1c1c" stroke-width="1.0" stroke-linejoin="round"/><path d="M206.2,73.65 Q206.5,75.55 209.4,75.55 H231.3 Q234.2,75.55 234.5,73.65 V82.95 Q234.2,81.05 231.3,81.05 H209.4 Q206.5,81.05 206.2,82.95 Z" fill="#1c1c1c"/><path d="M205,74.5 Q206.5,76.4 209.4,76.4 H231.3 Q234.2,76.4 235.7,74.5 V82.1 Q234.2,80.2 231.3,80.2 H209.4 Q206.5,80.2 205,82.1 Z" fill="#ff0000"/><path d="M225.5,84.3 L239.5,96.5 M225.5,84.3 L220.4,88.6 M225.9,84.9 L235.4,97.1" stroke="#1e0e04" stroke-width="1.25" fill="none" stroke-linecap="round"/></g><g transform="rotate(6 221.2 78.0)"><rect x="219.5" y="47.8" width="5.6" height="9.4" fill="#1c1c1c"/><rect x="220.3" y="47.8" width="4" height="9.4" fill="#ffff00"/><rect x="219.5" y="98.8" width="5.6" height="9.4" fill="#1c1c1c"/><rect x="220.3" y="98.8" width="4" height="9.4" fill="#ffff00"/><rect x="242" y="75.75" width="9.4" height="5.1" fill="#1c1c1c"/><rect x="242" y="76.55" width="9.4" height="3.5" fill="#ff0000"/></g><path d="M206.68,62.69 L200.34,56.02" stroke="#1c1c1c" stroke-width="5.4"/><path d="M206.68,62.69 L200.34,56.02" stroke="#ff0000" stroke-width="3.8"/><path d="M203.31,89.18 L195.5,94.06" stroke="#1c1c1c" stroke-width="5.4"/><path d="M203.31,89.18 L195.5,94.06" stroke="#ffff00" stroke-width="3.8"/><g transform="rotate(6 221.2 78.0)"><path d="M203.95,96.5 A25.3,25.3 0 0 0 216.37,102.84" fill="none" stroke="#1c1c1c" stroke-width="3.2" stroke-linecap="round"/><path d="M203.95,96.5 A25.3,25.3 0 0 0 216.37,102.84" fill="none" stroke="#e09a68" stroke-width="1.3" stroke-linecap="round"/></g><path d="M-1.6,0 L-16,4.6 L-13.5,1.7 L-32.6,3.6 L-27.5,0 L-32.6,-3.6 L-13.5,-1.7 L-16,-4.6Z" transform="translate(195,50.5) rotate(60.7)" fill="#fff" stroke="#ff3030" stroke-width="1.25" stroke-linejoin="miter"/><path d="M-1.6,0 L-16,4.6 L-13.5,1.7 L-32.6,3.6 L-27.5,0 L-32.6,-3.6 L-13.5,-1.7 L-16,-4.6Z" transform="translate(158.8,151.9) rotate(-59.7)" fill="#fff" stroke="#ff3030" stroke-width="1.25" stroke-linejoin="miter"/><path d="M-1.6,0 L-16,4.6 L-13.5,1.7 L-32.6,3.6 L-27.5,0 L-32.6,-3.6 L-13.5,-1.7 L-16,-4.6Z" transform="translate(263.4,128.1) rotate(-59.7)" fill="#fff" stroke="#ff3030" stroke-width="1.25" stroke-linejoin="miter"/><text x="229.8" y="12.2" font-size="7.33" font-weight="bold" fill="#222" text-anchor="start" textLength="25.5" lengthAdjust="spacingAndGlyphs">Слив в</text><text x="229.8" y="19.8" font-size="7.33" font-weight="bold" fill="#222" text-anchor="start" textLength="15.5" lengthAdjust="spacingAndGlyphs">ОГС</text><text x="274.7" y="65.1" font-size="7.33" font-weight="bold" fill="#222" text-anchor="start" textLength="40.5" lengthAdjust="spacingAndGlyphs">Нагнетание</text><text x="274.7" y="73.4" font-size="7.33" font-weight="bold" fill="#222" text-anchor="start" textLength="24.5" lengthAdjust="spacingAndGlyphs">из ОГС</text><text x="298" y="102.4" font-size="7.33" font-weight="bold" fill="#222" text-anchor="start" textLength="26.5" lengthAdjust="spacingAndGlyphs">Педали</text><text x="226" y="165.6" font-size="7.33" font-weight="bold" fill="#222" text-anchor="start" textLength="50" lengthAdjust="spacingAndGlyphs">Прямая связь</text><text x="226" y="174.8" font-size="7.33" font-weight="bold" fill="#222" text-anchor="start" textLength="47" lengthAdjust="spacingAndGlyphs">от педалей к</text><text x="226" y="184" font-size="7.33" font-weight="bold" fill="#222" text-anchor="start" textLength="37" lengthAdjust="spacingAndGlyphs">золотнику</text><text x="103.5" y="193" font-size="7.33" font-weight="bold" fill="#222" text-anchor="start" textLength="95" lengthAdjust="spacingAndGlyphs">Обратная связь от колеса</text><text x="103.5" y="202.3" font-size="7.33" font-weight="bold" fill="#222" text-anchor="start" textLength="69" lengthAdjust="spacingAndGlyphs">к гильзе золотника</text></g>
<g transform="translate(-3.9,468.5)"><path d="M222.3,45.2 V22.6" fill="none" stroke="#1c1c1c" stroke-width="6.4" stroke-linejoin="miter" stroke-linecap="butt"/><path d="M222.3,45.2 V22.6" fill="none" stroke="#ffff00" stroke-width="4.4" stroke-linejoin="miter" stroke-linecap="butt"/><path d="M222.3,110.8 V132" fill="none" stroke="#1c1c1c" stroke-width="6.4" stroke-linejoin="miter" stroke-linecap="butt"/><path d="M222.3,110.8 V132" fill="none" stroke="#ffff00" stroke-width="4.4" stroke-linejoin="miter" stroke-linecap="butt"/><path d="M254,78.3 H275.6" fill="none" stroke="#1c1c1c" stroke-width="5.0" stroke-linejoin="miter" stroke-linecap="butt"/><path d="M254,78.3 H275.6" fill="none" stroke="#ff0000" stroke-width="3.5" stroke-linejoin="miter" stroke-linecap="butt"/><circle cx="221.2" cy="78.0" r="36.5" fill="#1c1c1c"/><path d="M203.4,47.17 A35.6,35.6 0 0 1 210.2,44.14 L212.05,49.85 A29.6,29.6 0 0 0 206.4,52.37 Z" fill="#646a6e" stroke="#1c1c1c" stroke-width="0.9" stroke-linejoin="round"/><path d="M210.2,44.14 A35.6,35.6 0 0 1 237.64,46.42 L234.87,51.74 A29.6,29.6 0 0 0 212.05,49.85 Z" fill="#ffff00" stroke="#1c1c1c" stroke-width="0.9" stroke-linejoin="round"/><path d="M237.64,46.42 A35.6,35.6 0 0 1 251.87,59.93 L246.7,62.98 A29.6,29.6 0 0 0 234.87,51.74 Z" fill="#646a6e" stroke="#1c1c1c" stroke-width="0.9" stroke-linejoin="round"/><path d="M251.87,59.93 A35.6,35.6 0 0 1 252.34,95.26 L247.09,92.35 A29.6,29.6 0 0 0 246.7,62.98 Z" fill="#ff0000" stroke="#1c1c1c" stroke-width="0.9" stroke-linejoin="round"/><path d="M252.34,95.26 A35.6,35.6 0 0 1 240.33,108.02 L237.1,102.96 A29.6,29.6 0 0 0 247.09,92.35 Z" fill="#646a6e" stroke="#1c1c1c" stroke-width="0.9" stroke-linejoin="round"/><path d="M240.33,108.02 A35.6,35.6 0 0 1 212.59,112.54 L214.04,106.72 A29.6,29.6 0 0 0 237.1,102.96 Z" fill="#ffff00" stroke="#1c1c1c" stroke-width="0.9" stroke-linejoin="round"/><path d="M212.59,112.54 A35.6,35.6 0 0 1 204.49,109.43 L207.3,104.14 A29.6,29.6 0 0 0 214.04,106.72 Z" fill="#646a6e" stroke="#1c1c1c" stroke-width="0.9" stroke-linejoin="round"/><path d="M204.49,109.43 A35.6,35.6 0 0 1 185.74,81.1 L191.71,80.58 A29.6,29.6 0 0 0 207.3,104.14 Z" fill="#99cc00" stroke="#1c1c1c" stroke-width="0.9" stroke-linejoin="round"/><path d="M185.74,81.1 A35.6,35.6 0 0 1 185.74,74.9 L191.71,75.42 A29.6,29.6 0 0 0 191.71,80.58 Z" fill="#646a6e" stroke="#1c1c1c" stroke-width="0.9" stroke-linejoin="round"/><path d="M185.74,74.9 A35.6,35.6 0 0 1 203.4,47.17 L206.4,52.37 A29.6,29.6 0 0 0 191.71,75.42 Z" fill="#99cc00" stroke="#1c1c1c" stroke-width="0.9" stroke-linejoin="round"/><rect x="220.05" y="40.3" width="4.5" height="3" fill="#ffff00"/><rect x="220.05" y="112.7" width="4.5" height="3" fill="#ffff00"/><rect x="255.9" y="76.55" width="3" height="3.5" fill="#ff0000"/><path d="M77,168.2 H46 V41.7 H171 V52.4 H191.23 L199,59.04" fill="none" stroke="#1c1c1c" stroke-width="5.2" stroke-linejoin="miter" stroke-linecap="butt"/><path d="M77,168.2 H46 V41.7 H171 V52.4 H191.23 L199,59.04" fill="none" stroke="#99cc00" stroke-width="3.3" stroke-linejoin="miter" stroke-linecap="butt"/><path d="M93,52.8 H159.6 V104.1 H187.79 L198.19,95.98" fill="none" stroke="#1c1c1c" stroke-width="5.2" stroke-linejoin="miter" stroke-linecap="butt"/><path d="M93,52.8 H159.6 V104.1 H187.79 L198.19,95.98" fill="none" stroke="#99cc00" stroke-width="3.3" stroke-linejoin="miter" stroke-linecap="butt"/><path d="M222.3,5.6 L225.6,12.96 L224.4,12.39 L225,16.26 L224.3,15.79 L224.8,22.2 L222.3,20.12 L219.8,22.2 L220.3,15.79 L219.6,16.26 L220.2,12.39 L219,12.96Z" fill="#ffc21e" stroke="#ff2a1a" stroke-width="1.3" stroke-linejoin="miter"/><path d="M222.3,149.6 L225.6,142.24 L224.4,142.81 L225,138.94 L224.3,139.41 L224.8,133 L222.3,135.07 L219.8,133 L220.3,139.41 L219.6,138.94 L220.2,142.81 L219,142.24Z" fill="#ffc21e" stroke="#ff2a1a" stroke-width="1.3" stroke-linejoin="miter"/><path d="M281.2,78.3 L288.4,75 L287.8,76.3 L291.7,75.4 L291.2,76.4 L298.2,75.4 L295.8,78.3 L298.2,81.2 L291.2,80.2 L291.7,81.2 L287.8,80.3 L288.4,81.6Z" fill="#ff7a6a" stroke="#ff2020" stroke-width="0.9" stroke-linejoin="miter"/><path d="M78,86.8 H66.5 V134.4 H78" fill="none" stroke="#1c1c1c" stroke-width="5.2" stroke-linejoin="miter" stroke-linecap="butt"/><path d="M78,86.8 H66.5 V134.4 H78" fill="none" stroke="#99cc00" stroke-width="3.3" stroke-linejoin="miter" stroke-linecap="butt"/><path d="M75.3,48.2 H95.0 V91 H76.3 V71 H75.3 Z" fill="#1c1c1c" stroke="#1c1c1c" stroke-width="1.3" stroke-linejoin="miter"/><rect x="75.7" y="48.6" width="18.9" height="12.7" fill="#99cc00"/><rect x="76.7" y="71" width="17.9" height="19.6" fill="#99cc00"/><rect x="75" y="85.1" width="3" height="3.4" fill="#99cc00"/><path d="M76.3,130.2 H95.0 V173.3 H75.3 V142.3 H76.3 Z" fill="#1c1c1c" stroke="#1c1c1c" stroke-width="1.3"/><rect x="76.7" y="130.6" width="17.9" height="11.7" fill="#99cc00"/><rect x="75.7" y="152" width="18.9" height="20.9" fill="#99cc00"/><rect x="75" y="132.7" width="3" height="3.4" fill="#99cc00"/><rect x="83.4" y="71" width="3.0" height="71.3" fill="#8a8a8a" stroke="#555" stroke-width="0.4"/><path d="M86.4,78 l2.4,0.9 l-2.4,0.9 M86.4,79.8 l2.4,0.9 l-2.4,0.9 M86.4,81.6 l2.4,0.9 l-2.4,0.9 M86.4,83.4 l2.4,0.9 l-2.4,0.9 M86.4,85.2 l2.4,0.9 l-2.4,0.9 M86.4,87 l2.4,0.9 l-2.4,0.9 M86.4,88.8 l2.4,0.9 l-2.4,0.9 M86.4,90.6 l2.4,0.9 l-2.4,0.9 M86.4,92.4 l2.4,0.9 l-2.4,0.9 M86.4,94.2 l2.4,0.9 l-2.4,0.9 M86.4,96 l2.4,0.9 l-2.4,0.9 M86.4,97.8 l2.4,0.9 l-2.4,0.9 M86.4,99.6 l2.4,0.9 l-2.4,0.9 M86.4,101.4 l2.4,0.9 l-2.4,0.9 M86.4,103.2 l2.4,0.9 l-2.4,0.9 M86.4,105 l2.4,0.9 l-2.4,0.9 M86.4,106.8 l2.4,0.9 l-2.4,0.9 M86.4,108.6 l2.4,0.9 l-2.4,0.9 M86.4,110.4 l2.4,0.9 l-2.4,0.9 M86.4,112.2 l2.4,0.9 l-2.4,0.9 M86.4,114 l2.4,0.9 l-2.4,0.9 M86.4,115.8 l2.4,0.9 l-2.4,0.9 M86.4,117.6 l2.4,0.9 l-2.4,0.9 M86.4,119.4 l2.4,0.9 l-2.4,0.9 M86.4,121.2 l2.4,0.9 l-2.4,0.9 M86.4,123 l2.4,0.9 l-2.4,0.9 M86.4,124.8 l2.4,0.9 l-2.4,0.9 M86.4,126.6 l2.4,0.9 l-2.4,0.9 M86.4,128.4 l2.4,0.9 l-2.4,0.9 M86.4,130.2 l2.4,0.9 l-2.4,0.9 M86.4,132 l2.4,0.9 l-2.4,0.9 M86.4,133.8 l2.4,0.9 l-2.4,0.9 " fill="#b5b5b5" stroke="#6a6a6a" stroke-width="0.6"/><rect x="82.0" y="71" width="5.8" height="4.2" fill="#6e6e6e" stroke="#1c1c1c" stroke-width="0.9"/><rect x="82.0" y="138.1" width="5.8" height="4.2" fill="#6e6e6e" stroke="#1c1c1c" stroke-width="0.9"/><rect x="75.3" y="61.3" width="19.7" height="9.7" fill="url(#pg)" stroke="#1c1c1c" stroke-width="1.1"/><rect x="75.3" y="142.3" width="19.7" height="9.7" fill="url(#pg)" stroke="#1c1c1c" stroke-width="1.1"/><path d="M75.3,59 L67.7,54.2 L67.7,63.8 Z" fill="#fff" stroke="#1c1c1c" stroke-width="1.1"/><path d="M67.7,50.2 V68.8" stroke="#1c1c1c" stroke-width="1.1"/><path d="M67.7,52.6 l-2.6,-1.8" stroke="#333" stroke-width="0.8"/><path d="M67.7,56.3 l-2.6,-1.8" stroke="#333" stroke-width="0.8"/><path d="M67.7,60 l-2.6,-1.8" stroke="#333" stroke-width="0.8"/><path d="M67.7,63.7 l-2.6,-1.8" stroke="#333" stroke-width="0.8"/><path d="M67.7,67.4 l-2.6,-1.8" stroke="#333" stroke-width="0.8"/><path d="M95.4,168 L103,163.2 L103,172.8 Z" fill="#fff" stroke="#1c1c1c" stroke-width="1.1"/><path d="M103,159.2 V177.8" stroke="#1c1c1c" stroke-width="1.1"/><path d="M103,161.6 l2.6,-1.8" stroke="#333" stroke-width="0.8"/><path d="M103,165.3 l2.6,-1.8" stroke="#333" stroke-width="0.8"/><path d="M103,169 l2.6,-1.8" stroke="#333" stroke-width="0.8"/><path d="M103,172.7 l2.6,-1.8" stroke="#333" stroke-width="0.8"/><path d="M103,176.4 l2.6,-1.8" stroke="#333" stroke-width="0.8"/><path d="M99.55,150.1 L190,144" stroke="#666" stroke-width="3.2"/><path d="M100.05,150.1 L189.7,144" stroke="#f4f4f4" stroke-width="1.5"/><circle cx="99.55" cy="150.1" r="1.5" fill="#1c1c1c"/><circle cx="190" cy="144" r="1.5" fill="#1c1c1c"/><path d="M190,144 L201,106" stroke="#1c1c1c" stroke-width="1.2"/><g transform="rotate(16 100.3 111.2)"><path d="M100.04,121.9 L99.7,123.89 L98.69,123.8 L98.7,121.78 L97.63,121.56 L96.85,123.42 L95.88,123.11 L96.35,121.14 L95.35,120.69 L94.17,122.32 L93.3,121.8 L94.2,119.99 L93.33,119.32 L91.81,120.65 L91.08,119.94 L92.37,118.38 L91.68,117.53 L89.9,118.48 L89.35,117.63 L90.95,116.4 L90.47,115.42 L88.52,115.94 L88.18,114.98 L90.02,114.15 L89.77,113.08 L87.75,113.15 L87.63,112.14 L89.61,111.75 L89.61,110.65 L87.63,110.26 L87.75,109.25 L89.77,109.32 L90.02,108.25 L88.18,107.42 L88.52,106.46 L90.47,106.98 L90.95,106 L89.35,104.77 L89.9,103.92 L91.68,104.87 L92.37,104.02 L91.08,102.46 L91.81,101.75 L93.33,103.08 L94.2,102.41 L93.3,100.6 L94.17,100.08 L95.35,101.71 L96.35,101.26 L95.88,99.29 L96.85,98.98 L97.63,100.84 L98.7,100.62 L98.69,98.6 L99.7,98.51 L100.04,100.5 L99.59,103.03 L97.76,103.4 L96.06,104.18 L94.58,105.32 L93.4,106.77 L92.58,108.45 L92.15,110.27 L92.15,112.13 L92.58,113.95 L93.4,115.63 L94.58,117.08 L96.06,118.22 L97.76,119 L99.59,119.37Z" fill="#ff8a2a"/><path d="M97.56,118.72 A8,8 0 0 1 97.56,103.68" fill="none" stroke="#3b5bb5" stroke-width="0.7"/><path d="M96.9,126.4 Q99,128.8 103,128.5 Q114,127.8 122.9,121.6 L122.9,118.6 L120,118.6 Q111,125.1 101,125.6 Q99,125.4 98.2,123.4 Z" fill="#fff" stroke="#1c1c1c" stroke-width="1.05" stroke-linejoin="round"/><path d="M102.3,122.8 Q110,123.2 117.8,118.8 L102.6,118.5 Z" fill="#fff" stroke="#1c1c1c" stroke-width="1.05" stroke-linejoin="round"/><path d="M96.9,96 Q99,93.6 103,93.9 Q114,94.6 122.9,100.8 L122.9,103.8 L120,103.8 Q111,97.3 101,96.8 Q99,97 98.2,99 Z" fill="#fff" stroke="#1c1c1c" stroke-width="1.05" stroke-linejoin="round"/><path d="M102.3,99.6 Q110,99.2 117.8,103.6 L102.6,103.9 Z" fill="#fff" stroke="#1c1c1c" stroke-width="1.05" stroke-linejoin="round"/><path d="M96.8,124.9 L110.3,148.8 L103.5,127.3" fill="#fff" stroke="#1c1c1c" stroke-width="1.05" stroke-linejoin="round"/><path d="M100,103.6 H145.6 L148.7,106.6 V115.6 L145.6,118.7 H100 Z" fill="url(#wg)" stroke="#1c1c1c" stroke-width="1.1" stroke-linejoin="round"/><path d="M106,106.3 H147.5" stroke="#b9b9b9" stroke-width="0.4"/><path d="M106,108.6 H147.5" stroke="#b9b9b9" stroke-width="0.4"/><path d="M106,113.6 H147.5" stroke="#b9b9b9" stroke-width="0.4"/><path d="M106,116.2 H147.5" stroke="#b9b9b9" stroke-width="0.4"/><circle cx="100.3" cy="111.2" r="6.3" fill="#747474" stroke="#1c1c1c" stroke-width="1.2"/><circle cx="100.3" cy="111.2" r="4.2" fill="#7e7e7e"/></g><path d="M281.6,113.0 L304.2,174.3 M296.6,113.0 L319.2,174.3 M281.6,113.0 H303.7 M304.2,174.3 H326.3" stroke="#1c1c1c" stroke-width="1.2" fill="none"/><path d="M2.6,-5.4 H0 V5.4 H2.6" transform="translate(303.7,113) rotate(-20.24)" stroke="#1c1c1c" stroke-width="1.2" fill="none"/><path d="M2.6,-5.4 H0 V5.4 H2.6" transform="translate(326.3,174.3) rotate(-20.24)" stroke="#1c1c1c" stroke-width="1.2" fill="none"/><path d="M292.9,143.65 L285.3,138.85 L285.3,148.45 Z" fill="#fff" stroke="#1c1c1c" stroke-width="1.1"/><path d="M285.3,134.85 V153.45" stroke="#1c1c1c" stroke-width="1.1"/><path d="M285.3,137.25 l-2.6,-1.8" stroke="#333" stroke-width="0.8"/><path d="M285.3,140.95 l-2.6,-1.8" stroke="#333" stroke-width="0.8"/><path d="M285.3,144.65 l-2.6,-1.8" stroke="#333" stroke-width="0.8"/><path d="M285.3,148.35 l-2.6,-1.8" stroke="#333" stroke-width="0.8"/><path d="M285.3,152.05 l-2.6,-1.8" stroke="#333" stroke-width="0.8"/><path d="M307.9,143.65 L300.3,138.85 L300.3,148.45 Z" fill="#fff" stroke="#1c1c1c" stroke-width="1.1"/><path d="M300.3,134.85 V153.45" stroke="#1c1c1c" stroke-width="1.1"/><path d="M300.3,137.25 l-2.6,-1.8" stroke="#333" stroke-width="0.8"/><path d="M300.3,140.95 l-2.6,-1.8" stroke="#333" stroke-width="0.8"/><path d="M300.3,144.65 l-2.6,-1.8" stroke="#333" stroke-width="0.8"/><path d="M300.3,148.35 l-2.6,-1.8" stroke="#333" stroke-width="0.8"/><path d="M300.3,152.05 l-2.6,-1.8" stroke="#333" stroke-width="0.8"/><path d="M242.5,127 L285.4,123.3" stroke="#666" stroke-width="3.2"/><path d="M243,127 L285.1,123.3" stroke="#f4f4f4" stroke-width="1.5"/><path d="M242.5,127 L238.1,110.7" stroke="#1c1c1c" stroke-width="1.2"/><circle cx="221.2" cy="78.0" r="30.400000000000002" fill="#1c1c1c"/><circle cx="221.2" cy="78.0" r="29.2" fill="#eba26f"/><circle cx="221.2" cy="78.0" r="22.5" fill="#1c1c1c"/><g transform="rotate(9 221.2 78.0)"><circle cx="221.2" cy="78.0" r="21.6" fill="#7a3a04"/><path d="M206.91,61.27 A22,22 0 0 1 235.49,61.27 A26.79,26.79 0 0 1 206.91,61.27 Z" fill="#ffff00" stroke="#1c1c1c" stroke-width="1.0" stroke-linejoin="round"/><path d="M235.49,94.73 A22,22 0 0 1 206.91,94.73 A28.57,28.57 0 0 1 235.49,94.73 Z" fill="#ffff00" stroke="#1c1c1c" stroke-width="1.0" stroke-linejoin="round"/><path d="M203.4,90.93 A22,22 0 0 1 203.4,65.07 A31.28,31.28 0 0 1 203.4,90.93 Z" fill="#ff0000" stroke="#1c1c1c" stroke-width="1.0" stroke-linejoin="round"/><path d="M239,65.07 A22,22 0 0 1 239,90.93 A20.84,20.84 0 0 1 239,65.07 Z" fill="#ff0000" stroke="#1c1c1c" stroke-width="1.0" stroke-linejoin="round"/><path d="M206.2,73.65 Q206.5,75.55 209.4,75.55 H231.3 Q234.2,75.55 234.5,73.65 V82.95 Q234.2,81.05 231.3,81.05 H209.4 Q206.5,81.05 206.2,82.95 Z" fill="#1c1c1c"/><path d="M205,74.5 Q206.5,76.4 209.4,76.4 H231.3 Q234.2,76.4 235.7,74.5 V82.1 Q234.2,80.2 231.3,80.2 H209.4 Q206.5,80.2 205,82.1 Z" fill="#ff0000"/><path d="M225.5,84.3 L239.5,96.5 M225.5,84.3 L220.4,88.6 M225.9,84.9 L235.4,97.1" stroke="#1e0e04" stroke-width="1.25" fill="none" stroke-linecap="round"/></g><g transform="rotate(8 221.2 78.0)"><rect x="219.5" y="47.8" width="5.6" height="9.4" fill="#1c1c1c"/><rect x="220.3" y="47.8" width="4" height="9.4" fill="#ffff00"/><rect x="219.5" y="98.8" width="5.6" height="9.4" fill="#1c1c1c"/><rect x="220.3" y="98.8" width="4" height="9.4" fill="#ffff00"/><rect x="242" y="75.75" width="9.4" height="5.1" fill="#1c1c1c"/><rect x="242" y="76.55" width="9.4" height="3.5" fill="#ff0000"/></g><path d="M207.22,62.2 L201.12,55.31" stroke="#1c1c1c" stroke-width="5.4"/><path d="M207.22,62.2 L201.12,55.31" stroke="#99cc00" stroke-width="3.8"/><path d="M202.93,88.55 L194.96,93.15" stroke="#1c1c1c" stroke-width="5.4"/><path d="M202.93,88.55 L194.96,93.15" stroke="#99cc00" stroke-width="3.8"/><g transform="rotate(8 221.2 78.0)"><path d="M203.95,96.5 A25.3,25.3 0 0 0 216.37,102.84" fill="none" stroke="#1c1c1c" stroke-width="3.2" stroke-linecap="round"/><path d="M203.95,96.5 A25.3,25.3 0 0 0 216.37,102.84" fill="none" stroke="#e09a68" stroke-width="1.3" stroke-linecap="round"/></g><path d="M-1.6,0 L-16,4.6 L-13.5,1.7 L-32.6,3.6 L-27.5,0 L-32.6,-3.6 L-13.5,-1.7 L-16,-4.6Z" transform="translate(195,50.5) rotate(60.7)" fill="#fff" stroke="#ff3030" stroke-width="1.25" stroke-linejoin="miter"/><path d="M-1.6,0 L-16,4.6 L-13.5,1.7 L-32.6,3.6 L-27.5,0 L-32.6,-3.6 L-13.5,-1.7 L-16,-4.6Z" transform="translate(158.8,151.9) rotate(-59.7)" fill="#fff" stroke="#ff3030" stroke-width="1.25" stroke-linejoin="miter"/><path d="M-1.6,0 L-16,4.6 L-13.5,1.7 L-32.6,3.6 L-27.5,0 L-32.6,-3.6 L-13.5,-1.7 L-16,-4.6Z" transform="translate(263.4,128.1) rotate(-59.7)" fill="#fff" stroke="#ff3030" stroke-width="1.25" stroke-linejoin="miter"/><text x="229.8" y="12.2" font-size="7.33" font-weight="bold" fill="#222" text-anchor="start" textLength="25.5" lengthAdjust="spacingAndGlyphs">Слив в</text><text x="229.8" y="19.8" font-size="7.33" font-weight="bold" fill="#222" text-anchor="start" textLength="15.5" lengthAdjust="spacingAndGlyphs">ОГС</text><text x="274.7" y="65.1" font-size="7.33" font-weight="bold" fill="#222" text-anchor="start" textLength="40.5" lengthAdjust="spacingAndGlyphs">Нагнетание</text><text x="274.7" y="73.4" font-size="7.33" font-weight="bold" fill="#222" text-anchor="start" textLength="24.5" lengthAdjust="spacingAndGlyphs">из ОГС</text><text x="298" y="102.4" font-size="7.33" font-weight="bold" fill="#222" text-anchor="start" textLength="26.5" lengthAdjust="spacingAndGlyphs">Педали</text><text x="226" y="165.6" font-size="7.33" font-weight="bold" fill="#222" text-anchor="start" textLength="50" lengthAdjust="spacingAndGlyphs">Прямая связь</text><text x="226" y="174.8" font-size="7.33" font-weight="bold" fill="#222" text-anchor="start" textLength="47" lengthAdjust="spacingAndGlyphs">от педалей к</text><text x="226" y="184" font-size="7.33" font-weight="bold" fill="#222" text-anchor="start" textLength="37" lengthAdjust="spacingAndGlyphs">золотнику</text><text x="103.5" y="193" font-size="7.33" font-weight="bold" fill="#222" text-anchor="start" textLength="95" lengthAdjust="spacingAndGlyphs">Обратная связь от колеса</text><text x="103.5" y="202.3" font-size="7.33" font-weight="bold" fill="#222" text-anchor="start" textLength="69" lengthAdjust="spacingAndGlyphs">к гильзе золотника</text></g>
<g transform="translate(340.3,467.6)"><path d="M222.3,45.2 V22.6" fill="none" stroke="#1c1c1c" stroke-width="6.4" stroke-linejoin="miter" stroke-linecap="butt"/><path d="M222.3,45.2 V22.6" fill="none" stroke="#ffff00" stroke-width="4.4" stroke-linejoin="miter" stroke-linecap="butt"/><path d="M222.3,110.8 V132" fill="none" stroke="#1c1c1c" stroke-width="6.4" stroke-linejoin="miter" stroke-linecap="butt"/><path d="M222.3,110.8 V132" fill="none" stroke="#ffff00" stroke-width="4.4" stroke-linejoin="miter" stroke-linecap="butt"/><path d="M254,78.3 H275.6" fill="none" stroke="#1c1c1c" stroke-width="5.0" stroke-linejoin="miter" stroke-linecap="butt"/><path d="M254,78.3 H275.6" fill="none" stroke="#ff0000" stroke-width="3.5" stroke-linejoin="miter" stroke-linecap="butt"/><circle cx="221.2" cy="78.0" r="36.5" fill="#1c1c1c"/><path d="M203.4,47.17 A35.6,35.6 0 0 1 210.2,44.14 L212.05,49.85 A29.6,29.6 0 0 0 206.4,52.37 Z" fill="#646a6e" stroke="#1c1c1c" stroke-width="0.9" stroke-linejoin="round"/><path d="M210.2,44.14 A35.6,35.6 0 0 1 237.64,46.42 L234.87,51.74 A29.6,29.6 0 0 0 212.05,49.85 Z" fill="#ffff00" stroke="#1c1c1c" stroke-width="0.9" stroke-linejoin="round"/><path d="M237.64,46.42 A35.6,35.6 0 0 1 251.87,59.93 L246.7,62.98 A29.6,29.6 0 0 0 234.87,51.74 Z" fill="#646a6e" stroke="#1c1c1c" stroke-width="0.9" stroke-linejoin="round"/><path d="M251.87,59.93 A35.6,35.6 0 0 1 252.34,95.26 L247.09,92.35 A29.6,29.6 0 0 0 246.7,62.98 Z" fill="#ff0000" stroke="#1c1c1c" stroke-width="0.9" stroke-linejoin="round"/><path d="M252.34,95.26 A35.6,35.6 0 0 1 240.33,108.02 L237.1,102.96 A29.6,29.6 0 0 0 247.09,92.35 Z" fill="#646a6e" stroke="#1c1c1c" stroke-width="0.9" stroke-linejoin="round"/><path d="M240.33,108.02 A35.6,35.6 0 0 1 212.59,112.54 L214.04,106.72 A29.6,29.6 0 0 0 237.1,102.96 Z" fill="#ffff00" stroke="#1c1c1c" stroke-width="0.9" stroke-linejoin="round"/><path d="M212.59,112.54 A35.6,35.6 0 0 1 204.49,109.43 L207.3,104.14 A29.6,29.6 0 0 0 214.04,106.72 Z" fill="#646a6e" stroke="#1c1c1c" stroke-width="0.9" stroke-linejoin="round"/><path d="M204.49,109.43 A35.6,35.6 0 0 1 185.74,81.1 L191.71,80.58 A29.6,29.6 0 0 0 207.3,104.14 Z" fill="#ff0000" stroke="#1c1c1c" stroke-width="0.9" stroke-linejoin="round"/><path d="M185.74,81.1 A35.6,35.6 0 0 1 185.74,74.9 L191.71,75.42 A29.6,29.6 0 0 0 191.71,80.58 Z" fill="#646a6e" stroke="#1c1c1c" stroke-width="0.9" stroke-linejoin="round"/><path d="M185.74,74.9 A35.6,35.6 0 0 1 203.4,47.17 L206.4,52.37 A29.6,29.6 0 0 0 191.71,75.42 Z" fill="#ffff00" stroke="#1c1c1c" stroke-width="0.9" stroke-linejoin="round"/><rect x="220.05" y="40.3" width="4.5" height="3" fill="#ffff00"/><rect x="220.05" y="112.7" width="4.5" height="3" fill="#ffff00"/><rect x="255.9" y="76.55" width="3" height="3.5" fill="#ff0000"/><path d="M77,168.2 H46 V41.7 H171 V52.4 H191.23 L199,59.04" fill="none" stroke="#1c1c1c" stroke-width="5.2" stroke-linejoin="miter" stroke-linecap="butt"/><path d="M77,168.2 H46 V41.7 H171 V52.4 H191.23 L199,59.04" fill="none" stroke="#ffff00" stroke-width="3.3" stroke-linejoin="miter" stroke-linecap="butt"/><path d="M93,52.8 H159.6 V104.1 H187.79 L198.19,95.98" fill="none" stroke="#1c1c1c" stroke-width="5.2" stroke-linejoin="miter" stroke-linecap="butt"/><path d="M93,52.8 H159.6 V104.1 H187.79 L198.19,95.98" fill="none" stroke="#ff0000" stroke-width="3.3" stroke-linejoin="miter" stroke-linecap="butt"/><path d="M222.3,5.6 L225.6,12.96 L224.4,12.39 L225,16.26 L224.3,15.79 L224.8,22.2 L222.3,20.12 L219.8,22.2 L220.3,15.79 L219.6,16.26 L220.2,12.39 L219,12.96Z" fill="#ffc21e" stroke="#ff2a1a" stroke-width="1.3" stroke-linejoin="miter"/><path d="M222.3,149.6 L225.6,142.24 L224.4,142.81 L225,138.94 L224.3,139.41 L224.8,133 L222.3,135.07 L219.8,133 L220.3,139.41 L219.6,138.94 L220.2,142.81 L219,142.24Z" fill="#ffc21e" stroke="#ff2a1a" stroke-width="1.3" stroke-linejoin="miter"/><path d="M281.2,78.3 L288.4,75 L287.8,76.3 L291.7,75.4 L291.2,76.4 L298.2,75.4 L295.8,78.3 L298.2,81.2 L291.2,80.2 L291.7,81.2 L287.8,80.3 L288.4,81.6Z" fill="#ff7a6a" stroke="#ff2020" stroke-width="0.9" stroke-linejoin="miter"/><path d="M78,86.8 H66.5 V134.4 H78" fill="none" stroke="#1c1c1c" stroke-width="5.2" stroke-linejoin="miter" stroke-linecap="butt"/><path d="M78,86.8 H66.5 V134.4 H78" fill="none" stroke="#99cc00" stroke-width="3.3" stroke-linejoin="miter" stroke-linecap="butt"/><path d="M75.3,48.2 H95.0 V91 H76.3 V71 H75.3 Z" fill="#1c1c1c" stroke="#1c1c1c" stroke-width="1.3" stroke-linejoin="miter"/><rect x="75.7" y="48.6" width="18.9" height="12.7" fill="#ff0000"/><rect x="76.7" y="71" width="17.9" height="19.6" fill="#99cc00"/><rect x="75" y="85.1" width="3" height="3.4" fill="#99cc00"/><path d="M76.3,130.2 H95.0 V173.3 H75.3 V142.3 H76.3 Z" fill="#1c1c1c" stroke="#1c1c1c" stroke-width="1.3"/><rect x="76.7" y="130.6" width="17.9" height="11.7" fill="#99cc00"/><rect x="75.7" y="152" width="18.9" height="20.9" fill="#ffff00"/><rect x="75" y="132.7" width="3" height="3.4" fill="#99cc00"/><rect x="83.4" y="71" width="3.0" height="71.3" fill="#8a8a8a" stroke="#555" stroke-width="0.4"/><path d="M86.4,78 l2.4,0.9 l-2.4,0.9 M86.4,79.8 l2.4,0.9 l-2.4,0.9 M86.4,81.6 l2.4,0.9 l-2.4,0.9 M86.4,83.4 l2.4,0.9 l-2.4,0.9 M86.4,85.2 l2.4,0.9 l-2.4,0.9 M86.4,87 l2.4,0.9 l-2.4,0.9 M86.4,88.8 l2.4,0.9 l-2.4,0.9 M86.4,90.6 l2.4,0.9 l-2.4,0.9 M86.4,92.4 l2.4,0.9 l-2.4,0.9 M86.4,94.2 l2.4,0.9 l-2.4,0.9 M86.4,96 l2.4,0.9 l-2.4,0.9 M86.4,97.8 l2.4,0.9 l-2.4,0.9 M86.4,99.6 l2.4,0.9 l-2.4,0.9 M86.4,101.4 l2.4,0.9 l-2.4,0.9 M86.4,103.2 l2.4,0.9 l-2.4,0.9 M86.4,105 l2.4,0.9 l-2.4,0.9 M86.4,106.8 l2.4,0.9 l-2.4,0.9 M86.4,108.6 l2.4,0.9 l-2.4,0.9 M86.4,110.4 l2.4,0.9 l-2.4,0.9 M86.4,112.2 l2.4,0.9 l-2.4,0.9 M86.4,114 l2.4,0.9 l-2.4,0.9 M86.4,115.8 l2.4,0.9 l-2.4,0.9 M86.4,117.6 l2.4,0.9 l-2.4,0.9 M86.4,119.4 l2.4,0.9 l-2.4,0.9 M86.4,121.2 l2.4,0.9 l-2.4,0.9 M86.4,123 l2.4,0.9 l-2.4,0.9 M86.4,124.8 l2.4,0.9 l-2.4,0.9 M86.4,126.6 l2.4,0.9 l-2.4,0.9 M86.4,128.4 l2.4,0.9 l-2.4,0.9 M86.4,130.2 l2.4,0.9 l-2.4,0.9 M86.4,132 l2.4,0.9 l-2.4,0.9 M86.4,133.8 l2.4,0.9 l-2.4,0.9 " fill="#b5b5b5" stroke="#6a6a6a" stroke-width="0.6"/><rect x="82.0" y="71" width="5.8" height="4.2" fill="#6e6e6e" stroke="#1c1c1c" stroke-width="0.9"/><rect x="82.0" y="138.1" width="5.8" height="4.2" fill="#6e6e6e" stroke="#1c1c1c" stroke-width="0.9"/><rect x="75.3" y="61.3" width="19.7" height="9.7" fill="url(#pg)" stroke="#1c1c1c" stroke-width="1.1"/><rect x="75.3" y="142.3" width="19.7" height="9.7" fill="url(#pg)" stroke="#1c1c1c" stroke-width="1.1"/><path d="M75.3,59 L67.7,54.2 L67.7,63.8 Z" fill="#fff" stroke="#1c1c1c" stroke-width="1.1"/><path d="M67.7,50.2 V68.8" stroke="#1c1c1c" stroke-width="1.1"/><path d="M67.7,52.6 l-2.6,-1.8" stroke="#333" stroke-width="0.8"/><path d="M67.7,56.3 l-2.6,-1.8" stroke="#333" stroke-width="0.8"/><path d="M67.7,60 l-2.6,-1.8" stroke="#333" stroke-width="0.8"/><path d="M67.7,63.7 l-2.6,-1.8" stroke="#333" stroke-width="0.8"/><path d="M67.7,67.4 l-2.6,-1.8" stroke="#333" stroke-width="0.8"/><path d="M95.4,168 L103,163.2 L103,172.8 Z" fill="#fff" stroke="#1c1c1c" stroke-width="1.1"/><path d="M103,159.2 V177.8" stroke="#1c1c1c" stroke-width="1.1"/><path d="M103,161.6 l2.6,-1.8" stroke="#333" stroke-width="0.8"/><path d="M103,165.3 l2.6,-1.8" stroke="#333" stroke-width="0.8"/><path d="M103,169 l2.6,-1.8" stroke="#333" stroke-width="0.8"/><path d="M103,172.7 l2.6,-1.8" stroke="#333" stroke-width="0.8"/><path d="M103,176.4 l2.6,-1.8" stroke="#333" stroke-width="0.8"/><path d="M99.55,150.1 L190,144" stroke="#666" stroke-width="3.2"/><path d="M100.05,150.1 L189.7,144" stroke="#f4f4f4" stroke-width="1.5"/><circle cx="99.55" cy="150.1" r="1.5" fill="#1c1c1c"/><circle cx="190" cy="144" r="1.5" fill="#1c1c1c"/><path d="M190,144 L201,106" stroke="#1c1c1c" stroke-width="1.2"/><g transform="rotate(16 100.3 111.2)"><path d="M100.04,121.9 L99.7,123.89 L98.69,123.8 L98.7,121.78 L97.63,121.56 L96.85,123.42 L95.88,123.11 L96.35,121.14 L95.35,120.69 L94.17,122.32 L93.3,121.8 L94.2,119.99 L93.33,119.32 L91.81,120.65 L91.08,119.94 L92.37,118.38 L91.68,117.53 L89.9,118.48 L89.35,117.63 L90.95,116.4 L90.47,115.42 L88.52,115.94 L88.18,114.98 L90.02,114.15 L89.77,113.08 L87.75,113.15 L87.63,112.14 L89.61,111.75 L89.61,110.65 L87.63,110.26 L87.75,109.25 L89.77,109.32 L90.02,108.25 L88.18,107.42 L88.52,106.46 L90.47,106.98 L90.95,106 L89.35,104.77 L89.9,103.92 L91.68,104.87 L92.37,104.02 L91.08,102.46 L91.81,101.75 L93.33,103.08 L94.2,102.41 L93.3,100.6 L94.17,100.08 L95.35,101.71 L96.35,101.26 L95.88,99.29 L96.85,98.98 L97.63,100.84 L98.7,100.62 L98.69,98.6 L99.7,98.51 L100.04,100.5 L99.59,103.03 L97.76,103.4 L96.06,104.18 L94.58,105.32 L93.4,106.77 L92.58,108.45 L92.15,110.27 L92.15,112.13 L92.58,113.95 L93.4,115.63 L94.58,117.08 L96.06,118.22 L97.76,119 L99.59,119.37Z" fill="#ff8a2a"/><path d="M97.56,118.72 A8,8 0 0 1 97.56,103.68" fill="none" stroke="#3b5bb5" stroke-width="0.7"/><path d="M96.9,126.4 Q99,128.8 103,128.5 Q114,127.8 122.9,121.6 L122.9,118.6 L120,118.6 Q111,125.1 101,125.6 Q99,125.4 98.2,123.4 Z" fill="#fff" stroke="#1c1c1c" stroke-width="1.05" stroke-linejoin="round"/><path d="M102.3,122.8 Q110,123.2 117.8,118.8 L102.6,118.5 Z" fill="#fff" stroke="#1c1c1c" stroke-width="1.05" stroke-linejoin="round"/><path d="M96.9,96 Q99,93.6 103,93.9 Q114,94.6 122.9,100.8 L122.9,103.8 L120,103.8 Q111,97.3 101,96.8 Q99,97 98.2,99 Z" fill="#fff" stroke="#1c1c1c" stroke-width="1.05" stroke-linejoin="round"/><path d="M102.3,99.6 Q110,99.2 117.8,103.6 L102.6,103.9 Z" fill="#fff" stroke="#1c1c1c" stroke-width="1.05" stroke-linejoin="round"/><path d="M96.8,124.9 L110.3,148.8 L103.5,127.3" fill="#fff" stroke="#1c1c1c" stroke-width="1.05" stroke-linejoin="round"/><path d="M100,103.6 H145.6 L148.7,106.6 V115.6 L145.6,118.7 H100 Z" fill="url(#wg)" stroke="#1c1c1c" stroke-width="1.1" stroke-linejoin="round"/><path d="M106,106.3 H147.5" stroke="#b9b9b9" stroke-width="0.4"/><path d="M106,108.6 H147.5" stroke="#b9b9b9" stroke-width="0.4"/><path d="M106,113.6 H147.5" stroke="#b9b9b9" stroke-width="0.4"/><path d="M106,116.2 H147.5" stroke="#b9b9b9" stroke-width="0.4"/><circle cx="100.3" cy="111.2" r="6.3" fill="#747474" stroke="#1c1c1c" stroke-width="1.2"/><circle cx="100.3" cy="111.2" r="4.2" fill="#7e7e7e"/></g><path d="M300.2,113.0 L285.6,174.3 M315.2,113.0 L300.6,174.3 M300.2,113.0 H322.3 M285.6,174.3 H307.7" stroke="#1c1c1c" stroke-width="1.2" fill="none"/><path d="M2.6,-5.4 H0 V5.4 H2.6" transform="translate(322.3,113) rotate(13.4)" stroke="#1c1c1c" stroke-width="1.2" fill="none"/><path d="M2.6,-5.4 H0 V5.4 H2.6" transform="translate(307.7,174.3) rotate(13.4)" stroke="#1c1c1c" stroke-width="1.2" fill="none"/><path d="M292.9,143.65 L285.3,138.85 L285.3,148.45 Z" fill="#fff" stroke="#1c1c1c" stroke-width="1.1"/><path d="M285.3,134.85 V153.45" stroke="#1c1c1c" stroke-width="1.1"/><path d="M285.3,137.25 l-2.6,-1.8" stroke="#333" stroke-width="0.8"/><path d="M285.3,140.95 l-2.6,-1.8" stroke="#333" stroke-width="0.8"/><path d="M285.3,144.65 l-2.6,-1.8" stroke="#333" stroke-width="0.8"/><path d="M285.3,148.35 l-2.6,-1.8" stroke="#333" stroke-width="0.8"/><path d="M285.3,152.05 l-2.6,-1.8" stroke="#333" stroke-width="0.8"/><path d="M307.9,143.65 L300.3,138.85 L300.3,148.45 Z" fill="#fff" stroke="#1c1c1c" stroke-width="1.1"/><path d="M300.3,134.85 V153.45" stroke="#1c1c1c" stroke-width="1.1"/><path d="M300.3,137.25 l-2.6,-1.8" stroke="#333" stroke-width="0.8"/><path d="M300.3,140.95 l-2.6,-1.8" stroke="#333" stroke-width="0.8"/><path d="M300.3,144.65 l-2.6,-1.8" stroke="#333" stroke-width="0.8"/><path d="M300.3,148.35 l-2.6,-1.8" stroke="#333" stroke-width="0.8"/><path d="M300.3,152.05 l-2.6,-1.8" stroke="#333" stroke-width="0.8"/><path d="M254.3,120.9 L297.75,123.3" stroke="#666" stroke-width="3.2"/><path d="M254.8,120.9 L297.45,123.3" stroke="#f4f4f4" stroke-width="1.5"/><path d="M254.3,120.9 L243.3,104.9" stroke="#1c1c1c" stroke-width="1.2"/><circle cx="221.2" cy="78.0" r="30.400000000000002" fill="#1c1c1c"/><circle cx="221.2" cy="78.0" r="29.2" fill="#eba26f"/><circle cx="221.2" cy="78.0" r="22.5" fill="#1c1c1c"/><g transform="rotate(-5 221.2 78.0)"><circle cx="221.2" cy="78.0" r="21.6" fill="#7a3a04"/><path d="M206.91,61.27 A22,22 0 0 1 235.49,61.27 A26.79,26.79 0 0 1 206.91,61.27 Z" fill="#ffff00" stroke="#1c1c1c" stroke-width="1.0" stroke-linejoin="round"/><path d="M235.49,94.73 A22,22 0 0 1 206.91,94.73 A28.57,28.57 0 0 1 235.49,94.73 Z" fill="#ffff00" stroke="#1c1c1c" stroke-width="1.0" stroke-linejoin="round"/><path d="M203.4,90.93 A22,22 0 0 1 203.4,65.07 A31.28,31.28 0 0 1 203.4,90.93 Z" fill="#ff0000" stroke="#1c1c1c" stroke-width="1.0" stroke-linejoin="round"/><path d="M239,65.07 A22,22 0 0 1 239,90.93 A20.84,20.84 0 0 1 239,65.07 Z" fill="#ff0000" stroke="#1c1c1c" stroke-width="1.0" stroke-linejoin="round"/><path d="M206.2,73.65 Q206.5,75.55 209.4,75.55 H231.3 Q234.2,75.55 234.5,73.65 V82.95 Q234.2,81.05 231.3,81.05 H209.4 Q206.5,81.05 206.2,82.95 Z" fill="#1c1c1c"/><path d="M205,74.5 Q206.5,76.4 209.4,76.4 H231.3 Q234.2,76.4 235.7,74.5 V82.1 Q234.2,80.2 231.3,80.2 H209.4 Q206.5,80.2 205,82.1 Z" fill="#ff0000"/><path d="M225.5,84.3 L239.5,96.5 M225.5,84.3 L220.4,88.6 M225.9,84.9 L235.4,97.1" stroke="#1e0e04" stroke-width="1.25" fill="none" stroke-linecap="round"/></g><g transform="rotate(8.5 221.2 78.0)"><rect x="219.5" y="47.8" width="5.6" height="9.4" fill="#1c1c1c"/><rect x="220.3" y="47.8" width="4" height="9.4" fill="#ffff00"/><rect x="219.5" y="98.8" width="5.6" height="9.4" fill="#1c1c1c"/><rect x="220.3" y="98.8" width="4" height="9.4" fill="#ffff00"/><rect x="242" y="75.75" width="9.4" height="5.1" fill="#1c1c1c"/><rect x="242" y="76.55" width="9.4" height="3.5" fill="#ff0000"/></g><path d="M207.36,62.08 L201.32,55.13" stroke="#1c1c1c" stroke-width="5.4"/><path d="M207.36,62.08 L201.32,55.13" stroke="#ffff00" stroke-width="3.8"/><path d="M202.84,88.39 L194.83,92.92" stroke="#1c1c1c" stroke-width="5.4"/><path d="M202.84,88.39 L194.83,92.92" stroke="#ff0000" stroke-width="3.8"/><g transform="rotate(8.5 221.2 78.0)"><path d="M203.95,96.5 A25.3,25.3 0 0 0 216.37,102.84" fill="none" stroke="#1c1c1c" stroke-width="3.2" stroke-linecap="round"/><path d="M203.95,96.5 A25.3,25.3 0 0 0 216.37,102.84" fill="none" stroke="#e09a68" stroke-width="1.3" stroke-linecap="round"/></g><path d="M-1.6,0 L-16,4.6 L-13.5,1.7 L-32.6,3.6 L-27.5,0 L-32.6,-3.6 L-13.5,-1.7 L-16,-4.6Z" transform="translate(195,50.5) rotate(60.7)" fill="#fff" stroke="#ff3030" stroke-width="1.25" stroke-linejoin="miter"/><path d="M-1.6,0 L-16,4.6 L-13.5,1.7 L-32.6,3.6 L-27.5,0 L-32.6,-3.6 L-13.5,-1.7 L-16,-4.6Z" transform="translate(158.8,151.9) rotate(-59.7)" fill="#fff" stroke="#ff3030" stroke-width="1.25" stroke-linejoin="miter"/><path d="M-1.6,0 L-16,4.6 L-13.5,1.7 L-32.6,3.6 L-27.5,0 L-32.6,-3.6 L-13.5,-1.7 L-16,-4.6Z" transform="translate(263.4,128.1) rotate(-59.7)" fill="#fff" stroke="#ff3030" stroke-width="1.25" stroke-linejoin="miter"/><text x="229.8" y="12.2" font-size="7.33" font-weight="bold" fill="#222" text-anchor="start" textLength="25.5" lengthAdjust="spacingAndGlyphs">Слив в</text><text x="229.8" y="19.8" font-size="7.33" font-weight="bold" fill="#222" text-anchor="start" textLength="15.5" lengthAdjust="spacingAndGlyphs">ОГС</text><text x="274.7" y="65.1" font-size="7.33" font-weight="bold" fill="#222" text-anchor="start" textLength="40.5" lengthAdjust="spacingAndGlyphs">Нагнетание</text><text x="274.7" y="73.4" font-size="7.33" font-weight="bold" fill="#222" text-anchor="start" textLength="24.5" lengthAdjust="spacingAndGlyphs">из ОГС</text><text x="298" y="102.4" font-size="7.33" font-weight="bold" fill="#222" text-anchor="start" textLength="26.5" lengthAdjust="spacingAndGlyphs">Педали</text><text x="226" y="165.6" font-size="7.33" font-weight="bold" fill="#222" text-anchor="start" textLength="50" lengthAdjust="spacingAndGlyphs">Прямая связь</text><text x="226" y="174.8" font-size="7.33" font-weight="bold" fill="#222" text-anchor="start" textLength="47" lengthAdjust="spacingAndGlyphs">от педалей к</text><text x="226" y="184" font-size="7.33" font-weight="bold" fill="#222" text-anchor="start" textLength="37" lengthAdjust="spacingAndGlyphs">золотнику</text><text x="103.5" y="193" font-size="7.33" font-weight="bold" fill="#222" text-anchor="start" textLength="95" lengthAdjust="spacingAndGlyphs">Обратная связь от колеса</text><text x="103.5" y="202.3" font-size="7.33" font-weight="bold" fill="#222" text-anchor="start" textLength="69" lengthAdjust="spacingAndGlyphs">к гильзе золотника</text></g>
<g transform="translate(170.2,700.7) scale(0.977)"><path d="M222.3,45.2 V22.6" fill="none" stroke="#1c1c1c" stroke-width="6.4" stroke-linejoin="miter" stroke-linecap="butt"/><path d="M222.3,45.2 V22.6" fill="none" stroke="#ffff00" stroke-width="4.4" stroke-linejoin="miter" stroke-linecap="butt"/><path d="M222.3,110.8 V132" fill="none" stroke="#1c1c1c" stroke-width="6.4" stroke-linejoin="miter" stroke-linecap="butt"/><path d="M222.3,110.8 V132" fill="none" stroke="#ffff00" stroke-width="4.4" stroke-linejoin="miter" stroke-linecap="butt"/><path d="M254,78.3 H275.6" fill="none" stroke="#1c1c1c" stroke-width="5.0" stroke-linejoin="miter" stroke-linecap="butt"/><path d="M254,78.3 H275.6" fill="none" stroke="#ff0000" stroke-width="3.5" stroke-linejoin="miter" stroke-linecap="butt"/><circle cx="221.2" cy="78.0" r="36.5" fill="#1c1c1c"/><path d="M203.4,47.17 A35.6,35.6 0 0 1 210.2,44.14 L212.05,49.85 A29.6,29.6 0 0 0 206.4,52.37 Z" fill="#646a6e" stroke="#1c1c1c" stroke-width="0.9" stroke-linejoin="round"/><path d="M210.2,44.14 A35.6,35.6 0 0 1 237.64,46.42 L234.87,51.74 A29.6,29.6 0 0 0 212.05,49.85 Z" fill="#ffff00" stroke="#1c1c1c" stroke-width="0.9" stroke-linejoin="round"/><path d="M237.64,46.42 A35.6,35.6 0 0 1 251.87,59.93 L246.7,62.98 A29.6,29.6 0 0 0 234.87,51.74 Z" fill="#646a6e" stroke="#1c1c1c" stroke-width="0.9" stroke-linejoin="round"/><path d="M251.87,59.93 A35.6,35.6 0 0 1 252.34,95.26 L247.09,92.35 A29.6,29.6 0 0 0 246.7,62.98 Z" fill="#ff0000" stroke="#1c1c1c" stroke-width="0.9" stroke-linejoin="round"/><path d="M252.34,95.26 A35.6,35.6 0 0 1 240.33,108.02 L237.1,102.96 A29.6,29.6 0 0 0 247.09,92.35 Z" fill="#646a6e" stroke="#1c1c1c" stroke-width="0.9" stroke-linejoin="round"/><path d="M240.33,108.02 A35.6,35.6 0 0 1 212.59,112.54 L214.04,106.72 A29.6,29.6 0 0 0 237.1,102.96 Z" fill="#ffff00" stroke="#1c1c1c" stroke-width="0.9" stroke-linejoin="round"/><path d="M212.59,112.54 A35.6,35.6 0 0 1 204.49,109.43 L207.3,104.14 A29.6,29.6 0 0 0 214.04,106.72 Z" fill="#646a6e" stroke="#1c1c1c" stroke-width="0.9" stroke-linejoin="round"/><path d="M204.49,109.43 A35.6,35.6 0 0 1 185.74,81.1 L191.71,80.58 A29.6,29.6 0 0 0 207.3,104.14 Z" fill="#99cc00" stroke="#1c1c1c" stroke-width="0.9" stroke-linejoin="round"/><path d="M185.74,81.1 A35.6,35.6 0 0 1 185.74,74.9 L191.71,75.42 A29.6,29.6 0 0 0 191.71,80.58 Z" fill="#646a6e" stroke="#1c1c1c" stroke-width="0.9" stroke-linejoin="round"/><path d="M185.74,74.9 A35.6,35.6 0 0 1 203.4,47.17 L206.4,52.37 A29.6,29.6 0 0 0 191.71,75.42 Z" fill="#99cc00" stroke="#1c1c1c" stroke-width="0.9" stroke-linejoin="round"/><rect x="220.05" y="40.3" width="4.5" height="3" fill="#ffff00"/><rect x="220.05" y="112.7" width="4.5" height="3" fill="#ffff00"/><rect x="255.9" y="76.55" width="3" height="3.5" fill="#ff0000"/><path d="M77,168.2 H46 V41.7 H171 V52.4 H191.23 L199,59.04" fill="none" stroke="#1c1c1c" stroke-width="5.2" stroke-linejoin="miter" stroke-linecap="butt"/><path d="M77,168.2 H46 V41.7 H171 V52.4 H191.23 L199,59.04" fill="none" stroke="#99cc00" stroke-width="3.3" stroke-linejoin="miter" stroke-linecap="butt"/><path d="M93,52.8 H159.6 V104.1 H187.79 L198.19,95.98" fill="none" stroke="#1c1c1c" stroke-width="5.2" stroke-linejoin="miter" stroke-linecap="butt"/><path d="M93,52.8 H159.6 V104.1 H187.79 L198.19,95.98" fill="none" stroke="#99cc00" stroke-width="3.3" stroke-linejoin="miter" stroke-linecap="butt"/><path d="M222.3,5.6 L225.6,12.96 L224.4,12.39 L225,16.26 L224.3,15.79 L224.8,22.2 L222.3,20.12 L219.8,22.2 L220.3,15.79 L219.6,16.26 L220.2,12.39 L219,12.96Z" fill="#ffc21e" stroke="#ff2a1a" stroke-width="1.3" stroke-linejoin="miter"/><path d="M222.3,149.6 L225.6,142.24 L224.4,142.81 L225,138.94 L224.3,139.41 L224.8,133 L222.3,135.07 L219.8,133 L220.3,139.41 L219.6,138.94 L220.2,142.81 L219,142.24Z" fill="#ffc21e" stroke="#ff2a1a" stroke-width="1.3" stroke-linejoin="miter"/><path d="M281.2,78.3 L288.4,75 L287.8,76.3 L291.7,75.4 L291.2,76.4 L298.2,75.4 L295.8,78.3 L298.2,81.2 L291.2,80.2 L291.7,81.2 L287.8,80.3 L288.4,81.6Z" fill="#ff7a6a" stroke="#ff2020" stroke-width="0.9" stroke-linejoin="miter"/><path d="M78,86.8 H66.5 V134.4 H78" fill="none" stroke="#1c1c1c" stroke-width="5.2" stroke-linejoin="miter" stroke-linecap="butt"/><path d="M78,86.8 H66.5 V134.4 H78" fill="none" stroke="#99cc00" stroke-width="3.3" stroke-linejoin="miter" stroke-linecap="butt"/><path d="M75.3,48.2 H95.0 V91 H76.3 V78.2 H75.3 Z" fill="#1c1c1c" stroke="#1c1c1c" stroke-width="1.3" stroke-linejoin="miter"/><rect x="75.7" y="48.6" width="18.9" height="19.9" fill="#99cc00"/><rect x="76.7" y="78.2" width="17.9" height="12.4" fill="#99cc00"/><rect x="75" y="85.1" width="3" height="3.4" fill="#99cc00"/><path d="M76.3,130.2 H95.0 V173.3 H75.3 V149.5 H76.3 Z" fill="#1c1c1c" stroke="#1c1c1c" stroke-width="1.3"/><rect x="76.7" y="130.6" width="17.9" height="18.9" fill="#99cc00"/><rect x="75.7" y="159.2" width="18.9" height="13.7" fill="#99cc00"/><rect x="75" y="132.7" width="3" height="3.4" fill="#99cc00"/><rect x="83.4" y="78.2" width="3.0" height="71.3" fill="#8a8a8a" stroke="#555" stroke-width="0.4"/><path d="M86.4,85.2 l2.4,0.9 l-2.4,0.9 M86.4,87 l2.4,0.9 l-2.4,0.9 M86.4,88.8 l2.4,0.9 l-2.4,0.9 M86.4,90.6 l2.4,0.9 l-2.4,0.9 M86.4,92.4 l2.4,0.9 l-2.4,0.9 M86.4,94.2 l2.4,0.9 l-2.4,0.9 M86.4,96 l2.4,0.9 l-2.4,0.9 M86.4,97.8 l2.4,0.9 l-2.4,0.9 M86.4,99.6 l2.4,0.9 l-2.4,0.9 M86.4,101.4 l2.4,0.9 l-2.4,0.9 M86.4,103.2 l2.4,0.9 l-2.4,0.9 M86.4,105 l2.4,0.9 l-2.4,0.9 M86.4,106.8 l2.4,0.9 l-2.4,0.9 M86.4,108.6 l2.4,0.9 l-2.4,0.9 M86.4,110.4 l2.4,0.9 l-2.4,0.9 M86.4,112.2 l2.4,0.9 l-2.4,0.9 M86.4,114 l2.4,0.9 l-2.4,0.9 M86.4,115.8 l2.4,0.9 l-2.4,0.9 M86.4,117.6 l2.4,0.9 l-2.4,0.9 M86.4,119.4 l2.4,0.9 l-2.4,0.9 M86.4,121.2 l2.4,0.9 l-2.4,0.9 M86.4,123 l2.4,0.9 l-2.4,0.9 M86.4,124.8 l2.4,0.9 l-2.4,0.9 M86.4,126.6 l2.4,0.9 l-2.4,0.9 M86.4,128.4 l2.4,0.9 l-2.4,0.9 M86.4,130.2 l2.4,0.9 l-2.4,0.9 M86.4,132 l2.4,0.9 l-2.4,0.9 M86.4,133.8 l2.4,0.9 l-2.4,0.9 M86.4,135.6 l2.4,0.9 l-2.4,0.9 M86.4,137.4 l2.4,0.9 l-2.4,0.9 M86.4,139.2 l2.4,0.9 l-2.4,0.9 M86.4,141 l2.4,0.9 l-2.4,0.9 " fill="#b5b5b5" stroke="#6a6a6a" stroke-width="0.6"/><rect x="82.0" y="78.2" width="5.8" height="4.2" fill="#6e6e6e" stroke="#1c1c1c" stroke-width="0.9"/><rect x="82.0" y="145.3" width="5.8" height="4.2" fill="#6e6e6e" stroke="#1c1c1c" stroke-width="0.9"/><rect x="75.3" y="68.5" width="19.7" height="9.7" fill="url(#pg)" stroke="#1c1c1c" stroke-width="1.1"/><rect x="75.3" y="149.5" width="19.7" height="9.7" fill="url(#pg)" stroke="#1c1c1c" stroke-width="1.1"/><path d="M75.3,59 L67.7,54.2 L67.7,63.8 Z" fill="#fff" stroke="#1c1c1c" stroke-width="1.1"/><path d="M67.7,50.2 V68.8" stroke="#1c1c1c" stroke-width="1.1"/><path d="M67.7,52.6 l-2.6,-1.8" stroke="#333" stroke-width="0.8"/><path d="M67.7,56.3 l-2.6,-1.8" stroke="#333" stroke-width="0.8"/><path d="M67.7,60 l-2.6,-1.8" stroke="#333" stroke-width="0.8"/><path d="M67.7,63.7 l-2.6,-1.8" stroke="#333" stroke-width="0.8"/><path d="M67.7,67.4 l-2.6,-1.8" stroke="#333" stroke-width="0.8"/><path d="M95.4,168 L103,163.2 L103,172.8 Z" fill="#fff" stroke="#1c1c1c" stroke-width="1.1"/><path d="M103,159.2 V177.8" stroke="#1c1c1c" stroke-width="1.1"/><path d="M103,161.6 l2.6,-1.8" stroke="#333" stroke-width="0.8"/><path d="M103,165.3 l2.6,-1.8" stroke="#333" stroke-width="0.8"/><path d="M103,169 l2.6,-1.8" stroke="#333" stroke-width="0.8"/><path d="M103,172.7 l2.6,-1.8" stroke="#333" stroke-width="0.8"/><path d="M103,176.4 l2.6,-1.8" stroke="#333" stroke-width="0.8"/><path d="M119.69,144.93 L209,148" stroke="#666" stroke-width="3.2"/><path d="M120.19,144.93 L208.7,148" stroke="#f4f4f4" stroke-width="1.5"/><circle cx="119.69" cy="144.93" r="1.5" fill="#1c1c1c"/><circle cx="209" cy="148" r="1.5" fill="#1c1c1c"/><path d="M209,148 L212,103" stroke="#1c1c1c" stroke-width="1.2"/><g transform="rotate(-15 100.3 111.2)"><path d="M100.04,121.9 L99.7,123.89 L98.69,123.8 L98.7,121.78 L97.63,121.56 L96.85,123.42 L95.88,123.11 L96.35,121.14 L95.35,120.69 L94.17,122.32 L93.3,121.8 L94.2,119.99 L93.33,119.32 L91.81,120.65 L91.08,119.94 L92.37,118.38 L91.68,117.53 L89.9,118.48 L89.35,117.63 L90.95,116.4 L90.47,115.42 L88.52,115.94 L88.18,114.98 L90.02,114.15 L89.77,113.08 L87.75,113.15 L87.63,112.14 L89.61,111.75 L89.61,110.65 L87.63,110.26 L87.75,109.25 L89.77,109.32 L90.02,108.25 L88.18,107.42 L88.52,106.46 L90.47,106.98 L90.95,106 L89.35,104.77 L89.9,103.92 L91.68,104.87 L92.37,104.02 L91.08,102.46 L91.81,101.75 L93.33,103.08 L94.2,102.41 L93.3,100.6 L94.17,100.08 L95.35,101.71 L96.35,101.26 L95.88,99.29 L96.85,98.98 L97.63,100.84 L98.7,100.62 L98.69,98.6 L99.7,98.51 L100.04,100.5 L99.59,103.03 L97.76,103.4 L96.06,104.18 L94.58,105.32 L93.4,106.77 L92.58,108.45 L92.15,110.27 L92.15,112.13 L92.58,113.95 L93.4,115.63 L94.58,117.08 L96.06,118.22 L97.76,119 L99.59,119.37Z" fill="#ff8a2a"/><path d="M97.56,118.72 A8,8 0 0 1 97.56,103.68" fill="none" stroke="#3b5bb5" stroke-width="0.7"/><path d="M96.9,126.4 Q99,128.8 103,128.5 Q114,127.8 122.9,121.6 L122.9,118.6 L120,118.6 Q111,125.1 101,125.6 Q99,125.4 98.2,123.4 Z" fill="#fff" stroke="#1c1c1c" stroke-width="1.05" stroke-linejoin="round"/><path d="M102.3,122.8 Q110,123.2 117.8,118.8 L102.6,118.5 Z" fill="#fff" stroke="#1c1c1c" stroke-width="1.05" stroke-linejoin="round"/><path d="M96.9,96 Q99,93.6 103,93.9 Q114,94.6 122.9,100.8 L122.9,103.8 L120,103.8 Q111,97.3 101,96.8 Q99,97 98.2,99 Z" fill="#fff" stroke="#1c1c1c" stroke-width="1.05" stroke-linejoin="round"/><path d="M102.3,99.6 Q110,99.2 117.8,103.6 L102.6,103.9 Z" fill="#fff" stroke="#1c1c1c" stroke-width="1.05" stroke-linejoin="round"/><path d="M96.8,124.9 L110.3,148.8 L103.5,127.3" fill="#fff" stroke="#1c1c1c" stroke-width="1.05" stroke-linejoin="round"/><path d="M100,103.6 H145.6 L148.7,106.6 V115.6 L145.6,118.7 H100 Z" fill="url(#wg)" stroke="#1c1c1c" stroke-width="1.1" stroke-linejoin="round"/><path d="M106,106.3 H147.5" stroke="#b9b9b9" stroke-width="0.4"/><path d="M106,108.6 H147.5" stroke="#b9b9b9" stroke-width="0.4"/><path d="M106,113.6 H147.5" stroke="#b9b9b9" stroke-width="0.4"/><path d="M106,116.2 H147.5" stroke="#b9b9b9" stroke-width="0.4"/><circle cx="100.3" cy="111.2" r="6.3" fill="#747474" stroke="#1c1c1c" stroke-width="1.2"/><circle cx="100.3" cy="111.2" r="4.2" fill="#7e7e7e"/></g><path d="M300.2,113.0 L285.6,174.3 M315.2,113.0 L300.6,174.3 M300.2,113.0 H322.3 M285.6,174.3 H307.7" stroke="#1c1c1c" stroke-width="1.2" fill="none"/><path d="M2.6,-5.4 H0 V5.4 H2.6" transform="translate(322.3,113) rotate(13.4)" stroke="#1c1c1c" stroke-width="1.2" fill="none"/><path d="M2.6,-5.4 H0 V5.4 H2.6" transform="translate(307.7,174.3) rotate(13.4)" stroke="#1c1c1c" stroke-width="1.2" fill="none"/><path d="M292.9,143.65 L285.3,138.85 L285.3,148.45 Z" fill="#fff" stroke="#1c1c1c" stroke-width="1.1"/><path d="M285.3,134.85 V153.45" stroke="#1c1c1c" stroke-width="1.1"/><path d="M285.3,137.25 l-2.6,-1.8" stroke="#333" stroke-width="0.8"/><path d="M285.3,140.95 l-2.6,-1.8" stroke="#333" stroke-width="0.8"/><path d="M285.3,144.65 l-2.6,-1.8" stroke="#333" stroke-width="0.8"/><path d="M285.3,148.35 l-2.6,-1.8" stroke="#333" stroke-width="0.8"/><path d="M285.3,152.05 l-2.6,-1.8" stroke="#333" stroke-width="0.8"/><path d="M307.9,143.65 L300.3,138.85 L300.3,148.45 Z" fill="#fff" stroke="#1c1c1c" stroke-width="1.1"/><path d="M300.3,134.85 V153.45" stroke="#1c1c1c" stroke-width="1.1"/><path d="M300.3,137.25 l-2.6,-1.8" stroke="#333" stroke-width="0.8"/><path d="M300.3,140.95 l-2.6,-1.8" stroke="#333" stroke-width="0.8"/><path d="M300.3,144.65 l-2.6,-1.8" stroke="#333" stroke-width="0.8"/><path d="M300.3,148.35 l-2.6,-1.8" stroke="#333" stroke-width="0.8"/><path d="M300.3,152.05 l-2.6,-1.8" stroke="#333" stroke-width="0.8"/><path d="M254.3,120.9 L297.75,123.3" stroke="#666" stroke-width="3.2"/><path d="M254.8,120.9 L297.45,123.3" stroke="#f4f4f4" stroke-width="1.5"/><path d="M254.3,120.9 L243.3,104.9" stroke="#1c1c1c" stroke-width="1.2"/><circle cx="221.2" cy="78.0" r="30.400000000000002" fill="#1c1c1c"/><circle cx="221.2" cy="78.0" r="29.2" fill="#eba26f"/><circle cx="221.2" cy="78.0" r="22.5" fill="#1c1c1c"/><g transform="rotate(-6 221.2 78.0)"><circle cx="221.2" cy="78.0" r="21.6" fill="#7a3a04"/><path d="M206.91,61.27 A22,22 0 0 1 235.49,61.27 A26.79,26.79 0 0 1 206.91,61.27 Z" fill="#ffff00" stroke="#1c1c1c" stroke-width="1.0" stroke-linejoin="round"/><path d="M235.49,94.73 A22,22 0 0 1 206.91,94.73 A28.57,28.57 0 0 1 235.49,94.73 Z" fill="#ffff00" stroke="#1c1c1c" stroke-width="1.0" stroke-linejoin="round"/><path d="M203.4,90.93 A22,22 0 0 1 203.4,65.07 A31.28,31.28 0 0 1 203.4,90.93 Z" fill="#ff0000" stroke="#1c1c1c" stroke-width="1.0" stroke-linejoin="round"/><path d="M239,65.07 A22,22 0 0 1 239,90.93 A20.84,20.84 0 0 1 239,65.07 Z" fill="#ff0000" stroke="#1c1c1c" stroke-width="1.0" stroke-linejoin="round"/><path d="M206.2,73.65 Q206.5,75.55 209.4,75.55 H231.3 Q234.2,75.55 234.5,73.65 V82.95 Q234.2,81.05 231.3,81.05 H209.4 Q206.5,81.05 206.2,82.95 Z" fill="#1c1c1c"/><path d="M205,74.5 Q206.5,76.4 209.4,76.4 H231.3 Q234.2,76.4 235.7,74.5 V82.1 Q234.2,80.2 231.3,80.2 H209.4 Q206.5,80.2 205,82.1 Z" fill="#ff0000"/><path d="M225.5,84.3 L239.5,96.5 M225.5,84.3 L220.4,88.6 M225.9,84.9 L235.4,97.1" stroke="#1e0e04" stroke-width="1.25" fill="none" stroke-linecap="round"/></g><g transform="rotate(-6 221.2 78.0)"><rect x="219.5" y="47.8" width="5.6" height="9.4" fill="#1c1c1c"/><rect x="220.3" y="47.8" width="4" height="9.4" fill="#ffff00"/><rect x="219.5" y="98.8" width="5.6" height="9.4" fill="#1c1c1c"/><rect x="220.3" y="98.8" width="4" height="9.4" fill="#ffff00"/><rect x="242" y="75.75" width="9.4" height="5.1" fill="#1c1c1c"/><rect x="242" y="76.55" width="9.4" height="3.5" fill="#ff0000"/></g><path d="M203.81,66.05 L196.23,60.84" stroke="#1c1c1c" stroke-width="5.4"/><path d="M203.81,66.05 L196.23,60.84" stroke="#99cc00" stroke-width="3.8"/><path d="M206.02,92.66 L199.4,99.05" stroke="#1c1c1c" stroke-width="5.4"/><path d="M206.02,92.66 L199.4,99.05" stroke="#99cc00" stroke-width="3.8"/><g transform="rotate(-6 221.2 78.0)"><path d="M203.95,96.5 A25.3,25.3 0 0 0 216.37,102.84" fill="none" stroke="#1c1c1c" stroke-width="3.2" stroke-linecap="round"/><path d="M203.95,96.5 A25.3,25.3 0 0 0 216.37,102.84" fill="none" stroke="#e09a68" stroke-width="1.3" stroke-linecap="round"/></g><path d="M-1.6,0 L-16,4.6 L-13.5,1.7 L-32.6,3.6 L-27.5,0 L-32.6,-3.6 L-13.5,-1.7 L-16,-4.6Z" transform="translate(195,50.5) rotate(60.7)" fill="#fff" stroke="#ff3030" stroke-width="1.25" stroke-linejoin="miter"/><path d="M-1.6,0 L-16,4.6 L-13.5,1.7 L-32.6,3.6 L-27.5,0 L-32.6,-3.6 L-13.5,-1.7 L-16,-4.6Z" transform="translate(158.8,151.9) rotate(-59.7)" fill="#fff" stroke="#ff3030" stroke-width="1.25" stroke-linejoin="miter"/><path d="M-1.6,0 L-16,4.6 L-13.5,1.7 L-32.6,3.6 L-27.5,0 L-32.6,-3.6 L-13.5,-1.7 L-16,-4.6Z" transform="translate(263.4,128.1) rotate(-59.7)" fill="#fff" stroke="#ff3030" stroke-width="1.25" stroke-linejoin="miter"/><text x="229.8" y="12.2" font-size="7.33" font-weight="bold" fill="#222" text-anchor="start" textLength="25.5" lengthAdjust="spacingAndGlyphs">Слив в</text><text x="229.8" y="19.8" font-size="7.33" font-weight="bold" fill="#222" text-anchor="start" textLength="15.5" lengthAdjust="spacingAndGlyphs">ОГС</text><text x="274.7" y="65.1" font-size="7.33" font-weight="bold" fill="#222" text-anchor="start" textLength="40.5" lengthAdjust="spacingAndGlyphs">Нагнетание</text><text x="274.7" y="73.4" font-size="7.33" font-weight="bold" fill="#222" text-anchor="start" textLength="24.5" lengthAdjust="spacingAndGlyphs">из ОГС</text><text x="298" y="102.4" font-size="7.33" font-weight="bold" fill="#222" text-anchor="start" textLength="26.5" lengthAdjust="spacingAndGlyphs">Педали</text><text x="226" y="165.6" font-size="7.33" font-weight="bold" fill="#222" text-anchor="start" textLength="50" lengthAdjust="spacingAndGlyphs">Прямая связь</text><text x="226" y="174.8" font-size="7.33" font-weight="bold" fill="#222" text-anchor="start" textLength="47" lengthAdjust="spacingAndGlyphs">от педалей к</text><text x="226" y="184" font-size="7.33" font-weight="bold" fill="#222" text-anchor="start" textLength="37" lengthAdjust="spacingAndGlyphs">золотнику</text><text x="103.5" y="193" font-size="7.33" font-weight="bold" fill="#222" text-anchor="start" textLength="95" lengthAdjust="spacingAndGlyphs">Обратная связь от колеса</text><text x="103.5" y="202.3" font-size="7.33" font-weight="bold" fill="#222" text-anchor="start" textLength="69" lengthAdjust="spacingAndGlyphs">к гильзе золотника</text></g>
<path d="M2,1.2 V234" stroke="#2b2b2b" stroke-width="1.6"/><path d="M2,234 V467" stroke="#2b2b2b" stroke-width="1.6"/><path d="M1,467 V701" stroke="#2b2b2b" stroke-width="2"/><path d="M1.2,2 H686" stroke="#2b2b2b" stroke-width="1.5"/><path d="M685.2,1.2 V234" stroke="#2b2b2b" stroke-width="1.5"/><path d="M684,234 V467" stroke="#2b2b2b" stroke-width="1.5"/><path d="M682.2,467 V701" stroke="#2b2b2b" stroke-width="1.5"/><path d="M341.5,1.2 V467" stroke="#2b2b2b" stroke-width="1.5"/><path d="M339.3,467 V701" stroke="#2b2b2b" stroke-width="1.5"/><rect x="0" y="232.0" width="686" height="3.4" fill="#3a3a3a"/><rect x="0" y="465.7" width="685" height="3.2" fill="#3a3a3a"/><rect x="684.8" y="452" width="2.2" height="14" fill="#222"/><path d="M0,700.7 H683" stroke="#2b2b2b" stroke-width="1.5"/><path d="M172,702.6 H512" stroke="#bbb" stroke-width="0.8"/><path d="M172.8,700.7 V924.2 H511.4 V700.7" stroke="#2b2b2b" stroke-width="1.5" fill="none"/>
<text x="6.5" y="14.4" font-size="7.33" font-weight="bold" fill="#222" text-anchor="start" textLength="152.5" lengthAdjust="spacingAndGlyphs">Режим установившийся. Педали и колесо</text><text x="6.5" y="22.9" font-size="7.33" font-weight="bold" fill="#222" text-anchor="start" textLength="166" lengthAdjust="spacingAndGlyphs">установлены нейтрально. Золотник запирает</text><text x="6.5" y="31.4" font-size="7.33" font-weight="bold" fill="#222" text-anchor="start" textLength="137.5" lengthAdjust="spacingAndGlyphs">жидкость в полостях гидроцилиндра.</text><text x="350.4" y="13.2" font-size="7.33" font-weight="bold" fill="#222" text-anchor="start" textLength="179.3" lengthAdjust="spacingAndGlyphs">Золотник повернулся и открыл подвод жидкости</text><text x="350.4" y="22.8" font-size="7.33" font-weight="bold" fill="#222" text-anchor="start" textLength="142.1" lengthAdjust="spacingAndGlyphs">на  выдвижение штока гидроцилиндра.</text><text x="5" y="248.5" font-size="7.33" font-weight="bold" fill="#222" text-anchor="start" textLength="172.6" lengthAdjust="spacingAndGlyphs">Следите за работой прямой связи от педалей к</text><text x="5" y="257.2" font-size="7.33" font-weight="bold" fill="#222" text-anchor="start" textLength="37.8" lengthAdjust="spacingAndGlyphs">золотнику</text><text x="348.4" y="247.9" font-size="7.33" font-weight="bold" fill="#222" text-anchor="start" textLength="173.2" lengthAdjust="spacingAndGlyphs">Следите за работой обратной связи от колеса к</text><text x="348.4" y="256.7" font-size="7.33" font-weight="bold" fill="#222" text-anchor="start" textLength="63.1" lengthAdjust="spacingAndGlyphs">гильзе золотника</text><text x="3.5" y="482.1" font-size="7.33" font-weight="bold" fill="#222" text-anchor="start" textLength="171.2" lengthAdjust="spacingAndGlyphs">Следите за перемещением золотника и сменой</text><text x="3.5" y="490.8" font-size="7.33" font-weight="bold" fill="#222" text-anchor="start" textLength="177.5" lengthAdjust="spacingAndGlyphs">направления подвода жидкости в гидроцилиндр</text><text x="348.6" y="482.1" font-size="7.33" font-weight="bold" fill="#222" text-anchor="start" textLength="169.4" lengthAdjust="spacingAndGlyphs">Обратите внимание на перемещение обратной</text><text x="348.6" y="490.8" font-size="7.33" font-weight="bold" fill="#222" text-anchor="start" textLength="93.7" lengthAdjust="spacingAndGlyphs">связи и гильзы золотника</text><text x="177.9" y="715" font-size="7.33" font-weight="bold" fill="#222" text-anchor="start" textLength="174.1" lengthAdjust="spacingAndGlyphs">Наступил новый установившийся режим работы</text><text x="177.9" y="723.7" font-size="7.33" font-weight="bold" fill="#222" text-anchor="start" textLength="131.8" lengthAdjust="spacingAndGlyphs">МРК. Самолет начал разворот влево.</text><text x="275.2" y="217.4" font-size="7.33" font-weight="bold" fill="#222" text-anchor="end" textLength="252.7" lengthAdjust="spacingAndGlyphs">Для поворота самолета вправо с большим радиусом и перемещения</text><text x="275.2" y="224.9" font-size="7.33" font-weight="bold" fill="#222" text-anchor="end" textLength="219.2" lengthAdjust="spacingAndGlyphs">правой педали вперед на часть хода нажмите кнопку Далее</text><text x="617.7" y="211.7" font-size="7.33" font-weight="bold" fill="#222" text-anchor="end" textLength="269.9" lengthAdjust="spacingAndGlyphs">Для просмотра выдвижения и остановки штока гидроцилиндра, поворота</text><text x="617.7" y="219.4" font-size="7.33" font-weight="bold" fill="#222" text-anchor="end" textLength="257.4" lengthAdjust="spacingAndGlyphs">колеса передней стойки нажмите кнопку Далее. Обратите внимание на</text><text x="617.7" y="226.9" font-size="7.33" font-weight="bold" fill="#222" text-anchor="end" textLength="192.3" lengthAdjust="spacingAndGlyphs">работу обратной связи  и поворот гильзы золотника</text><text x="274.7" y="449.9" font-size="7.33" font-weight="bold" fill="#222" text-anchor="end" textLength="253.4" lengthAdjust="spacingAndGlyphs">Для поворота самолета вправо с меньшим радиусом и дальнейшего</text><text x="274.7" y="457.4" font-size="7.33" font-weight="bold" fill="#222" text-anchor="end" textLength="194.7" lengthAdjust="spacingAndGlyphs">перемещения правой педали вперед нажмите кнопку</text><text x="617.7" y="449.2" font-size="7.33" font-weight="bold" fill="#222" text-anchor="end" textLength="271.7" lengthAdjust="spacingAndGlyphs">Для просмотра выдвижения и остановки штока гидроцилиндра, поворота</text><text x="617.7" y="456.7" font-size="7.33" font-weight="bold" fill="#222" text-anchor="end" textLength="174.8" lengthAdjust="spacingAndGlyphs">колеса передней стойки нажмите кнопку Далее.</text><text x="270.9" y="682.7" font-size="7.33" font-weight="bold" fill="#222" text-anchor="end" textLength="232.1" lengthAdjust="spacingAndGlyphs">Для перемещения левой педали вперед нажмите кнопку Далее.</text><text x="615.2" y="682.2" font-size="7.33" font-weight="bold" fill="#222" text-anchor="end" textLength="269.7" lengthAdjust="spacingAndGlyphs">Для просмотра выдвижения и остановки штока гидроцилиндра, поворота</text><text x="615.2" y="689.2" font-size="7.33" font-weight="bold" fill="#222" text-anchor="end" textLength="172.5" lengthAdjust="spacingAndGlyphs">колеса передней стойки нажмите кнопку Далее.</text><text x="400.3" y="910.4" font-size="7.33" font-weight="bold" fill="#222" text-anchor="end" textLength="172" lengthAdjust="spacingAndGlyphs">Работа модели МРК завершена. Для повторения</text><text x="400.3" y="917.9" font-size="7.33" font-weight="bold" fill="#222" text-anchor="end" textLength="95.6" lengthAdjust="spacingAndGlyphs">просмотра нажмите кнопку</text><text x="280.2" y="223.8" font-size="18.4" font-weight="bold" fill="#1414ff" textLength="55.8" lengthAdjust="spacingAndGlyphs">Далее</text><text x="623.2" y="220.9" font-size="18.4" font-weight="bold" fill="#1414ff" textLength="54.5" lengthAdjust="spacingAndGlyphs">Далее</text><text x="280.2" y="460.5" font-size="18.4" font-weight="bold" fill="#1414ff" textLength="55.8" lengthAdjust="spacingAndGlyphs">Далее</text><text x="623.2" y="460" font-size="18.4" font-weight="bold" fill="#1414ff" textLength="55" lengthAdjust="spacingAndGlyphs">Далее</text><text x="277.2" y="693" font-size="18.4" font-weight="bold" fill="#1414ff" textLength="54.5" lengthAdjust="spacingAndGlyphs">Далее</text><text x="620.9" y="692.3" font-size="18.4" font-weight="bold" fill="#1414ff" textLength="54.3" lengthAdjust="spacingAndGlyphs">Далее</text><text x="408.6" y="916.3" font-size="17.4" font-weight="bold" fill="#1060ff" textLength="93.6" lengthAdjust="spacingAndGlyphs">Повторить</text><rect x="291.6" y="13.2" width="28" height="26.8" fill="#fff" stroke="#1c1c1c" stroke-width="1.4"/><text x="304.3" y="30.7" font-size="18" font-weight="bold" text-anchor="middle" fill="#111">а</text><rect x="634.6" y="12.1" width="28" height="26.6" fill="#fff" stroke="#1c1c1c" stroke-width="1.4"/><text x="648.3" y="31" font-size="18" font-weight="normal" text-anchor="middle" fill="#111">б</text><rect x="288.6" y="247.4" width="27.7" height="26.9" fill="#fff" stroke="#1c1c1c" stroke-width="1.4"/><text x="302.6" y="265.5" font-size="18" font-weight="bold" text-anchor="middle" fill="#111">в</text><rect x="636.8" y="247" width="27.5" height="26.5" fill="#fff" stroke="#1c1c1c" stroke-width="1.4"/><text x="650.3" y="265.7" font-size="18" font-weight="bold" text-anchor="middle" fill="#111">г</text><rect x="292.1" y="480.9" width="27.5" height="26.6" fill="#fff" stroke="#1c1c1c" stroke-width="1.4"/><text x="305.2" y="498.7" font-size="18" font-weight="bold" text-anchor="middle" fill="#111">д</text><rect x="637.9" y="480.4" width="27.5" height="26.6" fill="#fff" stroke="#1c1c1c" stroke-width="1.4"/><text x="651" y="499" font-size="18" font-weight="bold" text-anchor="middle" fill="#111">е</text><rect x="462.4" y="715.7" width="26.3" height="25.6" fill="#fff" stroke="#1c1c1c" stroke-width="1.4"/><text x="474.5" y="733.3" font-size="17.5" font-weight="bold" text-anchor="middle" fill="#111">ж</text>
</svg></body></html>
